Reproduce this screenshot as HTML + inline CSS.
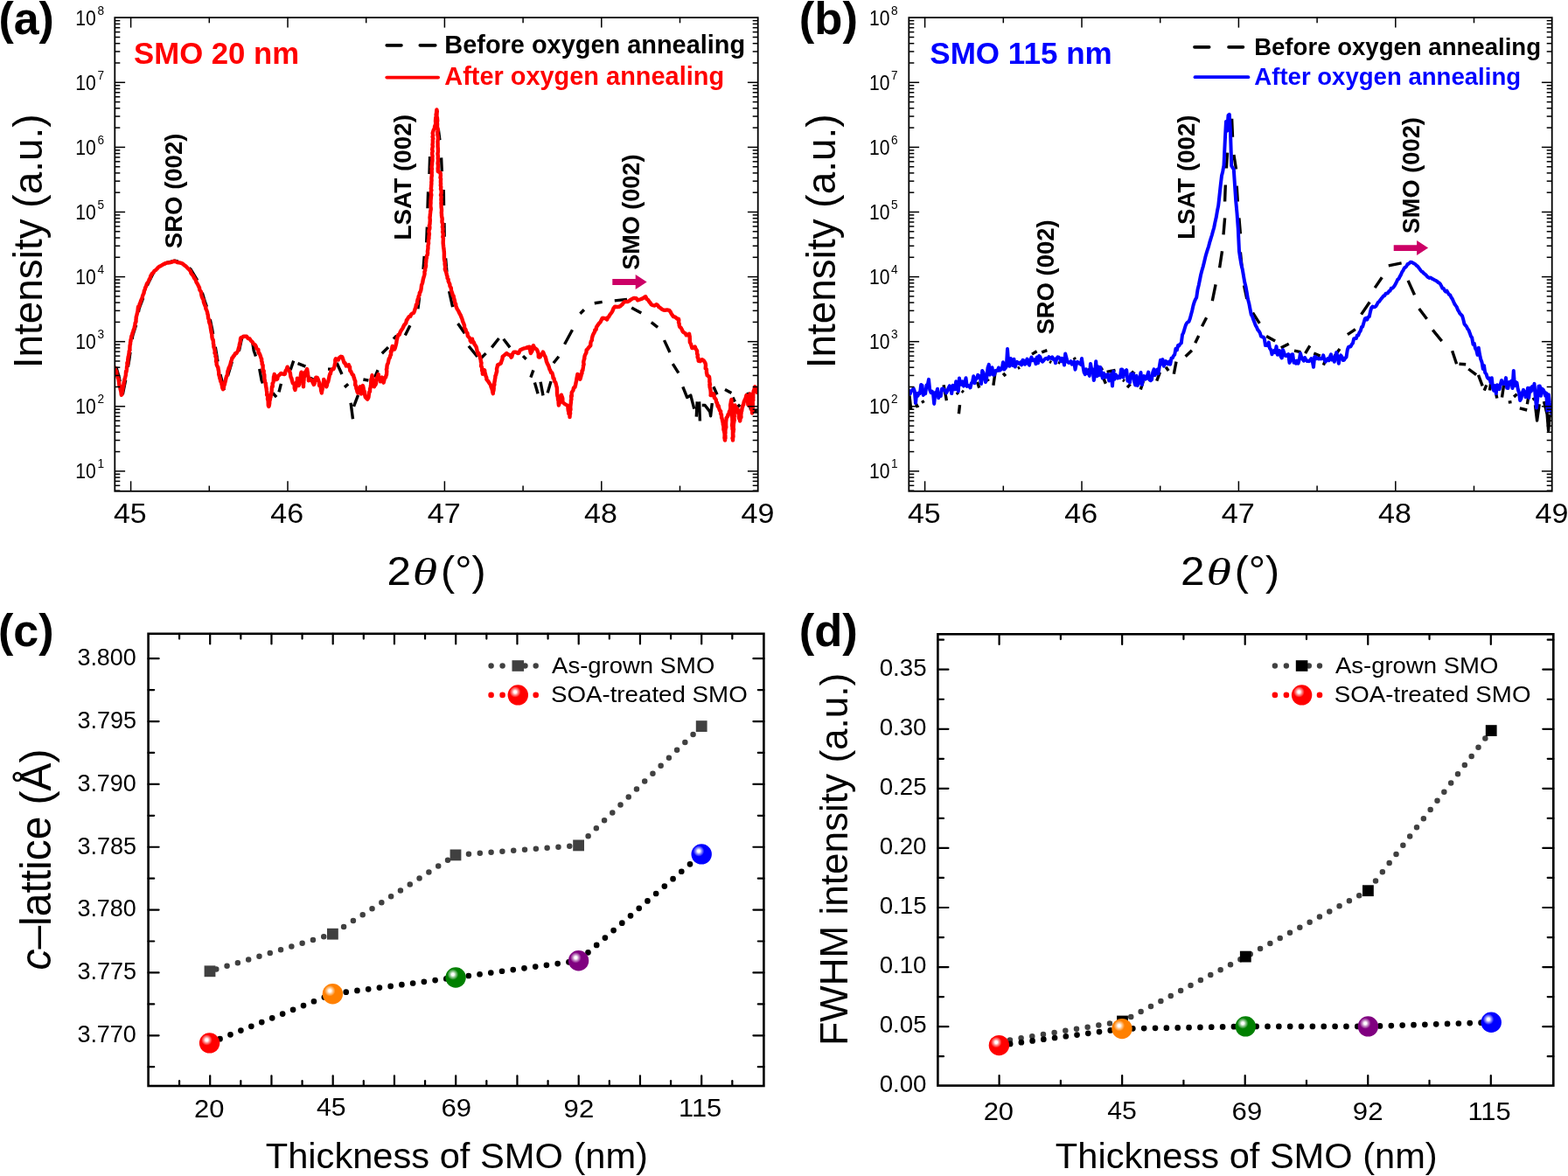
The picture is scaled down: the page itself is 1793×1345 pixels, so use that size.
<!DOCTYPE html>
<html lang="en"><head><meta charset="utf-8"><title>XRD of SMO films</title>
<style>html,body{margin:0;padding:0;background:#fff}body{width:1793px;height:1345px;overflow:hidden}svg{display:block;font-family:"Liberation Sans", Arial, Helvetica, sans-serif}</style>
</head><body>
<svg width="1793" height="1345" viewBox="0 0 1793 1345">
<defs>
<radialGradient id="g_red" cx="0.363" cy="0.35" r="0.27" fx="0.363" fy="0.35"><stop offset="0" stop-color="#fff"/><stop offset="0.22" stop-color="#fff"/><stop offset="0.55" stop-color="#fff" stop-opacity="0.55"/><stop offset="1" stop-color="#fff" stop-opacity="0"/></radialGradient>
<radialGradient id="g_org" cx="0.363" cy="0.35" r="0.27" fx="0.363" fy="0.35"><stop offset="0" stop-color="#fff"/><stop offset="0.22" stop-color="#fff"/><stop offset="0.55" stop-color="#fff" stop-opacity="0.55"/><stop offset="1" stop-color="#fff" stop-opacity="0"/></radialGradient>
<radialGradient id="g_grn" cx="0.363" cy="0.35" r="0.27" fx="0.363" fy="0.35"><stop offset="0" stop-color="#fff"/><stop offset="0.22" stop-color="#fff"/><stop offset="0.55" stop-color="#fff" stop-opacity="0.55"/><stop offset="1" stop-color="#fff" stop-opacity="0"/></radialGradient>
<radialGradient id="g_pur" cx="0.363" cy="0.35" r="0.27" fx="0.363" fy="0.35"><stop offset="0" stop-color="#fff"/><stop offset="0.22" stop-color="#fff"/><stop offset="0.55" stop-color="#fff" stop-opacity="0.55"/><stop offset="1" stop-color="#fff" stop-opacity="0"/></radialGradient>
<radialGradient id="g_blu" cx="0.363" cy="0.35" r="0.27" fx="0.363" fy="0.35"><stop offset="0" stop-color="#fff"/><stop offset="0.22" stop-color="#fff"/><stop offset="0.55" stop-color="#fff" stop-opacity="0.55"/><stop offset="1" stop-color="#fff" stop-opacity="0"/></radialGradient>
<clipPath id="clipA"><rect x="131.3" y="20" width="735.4" height="541.4"/></clipPath>
<clipPath id="clipB"><rect x="1039.3" y="20" width="735.4" height="541.4"/></clipPath>
</defs>
<rect width="1793" height="1345" fill="#fff"/>
<g clip-path="url(#clipA)" fill="none" stroke-linejoin="round">
<path d="M132.9 420.0 L136.2 431.5 L140.3 451.1 L143.6 434.8 L147.7 411.9 L151.7 384.1 L155.8 371.0 L159.1 353.0 L164.0 339.9 L168.9 325.2 L175.5 312.1 L182.0 305.6 L190.2 300.7 L200.0 298.2 L209.8 300.7 L218.0 308.0 L224.5 318.6 L229.4 328.5 L234.3 344.8 L238.4 356.3 L242.5 375.9 L245.8 393.9 L249.0 413.5 L252.3 429.8 L256.4 444.6 L260.5 429.8 L265.4 413.5 L270.3 403.7 L273.6 400.4 L276.8 385.7 L280.1 384.1 L283.4 384.1 L288.3 389.0 L290.2 401.0 L295.9 417.4 L299.2 435.4 L303.3 445.2" stroke="#000" stroke-width="3.4" stroke-dasharray="17 15" stroke-dashoffset="0"/>
<path d="M311.9 449.5 L316.1 454.2 M319.0 448.3 L321.4 438.8 M332.1 423.3 L335.7 412.6 M340.5 415.6 L349.4 419.1 M354.7 432.2 L358.3 434.0 M375.0 422.1 L378.5 422.1 M385.1 415.0 L391.0 428.0 M394.0 442.9 L398.2 439.3 M401.1 460.8 L403.5 479.2 M404.5 464.9 L409.5 451.8 M415.4 434.0 L421.4 435.2 M428.5 431.6 L432.1 423.3 M436.8 404.2 L444.0 397.1 M449.9 387.6 L453.5 384.0 M463.3 383.4 L468.9 372.3 M477.9 353.3 L479.6 340.0 M484.0 308.0 L485.2 293.0 M487.7 277.4 L488.4 259.6 M489.0 238.3 L489.6 219.4 M491.0 199.0 L491.6 179.0 M501.3 148.0 L502.9 160.2 M504.6 180.3 L505.3 196.0 M507.3 217.1 L507.5 235.0 M508.0 255.1 L508.2 270.7 M509.6 295.3 L510.9 310.9 M513.6 333.2 L517.6 351.1 M523.6 370.0 L531.4 381.2 M535.9 395.7 L545.9 408.0 M548.2 411.5 L555.6 404.1 M562.3 397.4 L570.5 387.0 M575.7 387.7 L583.1 397.4 M598.0 407.1 L601.7 410.8 M609.9 423.4 L606.9 431.6 M611.4 437.5 L615.1 450.2 M618.1 436.8 L621.0 452.4 M630.0 436.1 L626.2 449.4 M632.9 415.2 L638.9 407.8 M645.6 393.7 L654.5 377.3 M663.4 358.7 L667.9 354.3 M679.8 346.8 L688.7 345.4 M702.8 343.9 L717.0 342.4 M722.2 352.0 L733.3 358.0 M744.8 368.7 L752.1 374.4 M759.5 389.1 L766.0 403.0 M769.3 416.1 L775.9 426.7 M780.8 442.3 L785.7 454.5 L789.8 452.1 L793.8 467.6 M797.2 459.4 L796.3 476.6 M799.6 459.4 L800.4 481.5 M802.8 463.5 L806.1 463.5 L811.8 470.9 L812.6 475.8 L814.3 461.1 M815.9 442.3 L820.0 451.3 M829.0 445.5 L836.4 449.6 M838.0 454.5 L840.4 459.4 M843.7 465.2 L846.2 462.7 M855.2 448.8 L858.4 468.4 M861.7 470.1 L865.8 470.1" stroke="#000" stroke-width="3.4"/>
<path d="M131.5 420.6 L131.9 422.7 L132.5 424.8 L133.3 425.0 L133.3 429.3 L134.1 429.4 L134.8 432.1 L135.6 433.8 L135.8 435.6 L136.0 436.4 L136.4 440.4 L136.7 441.7 L137.2 441.4 L137.6 444.9 L137.6 444.9 L138.4 448.1 L138.7 451.1 L138.9 451.7 L139.4 451.2 L139.5 449.0 L139.9 447.6 L140.7 443.2 L140.4 441.8 L141.5 440.6 L141.5 438.4 L141.8 436.8 L142.2 435.4 L142.4 433.7 L142.9 432.8 L143.3 431.0 L143.8 429.2 L144.0 424.8 L144.5 425.3 L144.9 422.2 L145.1 419.2 L145.5 418.4 L145.4 414.9 L146.2 415.9 L146.3 412.5 L146.2 411.5 L146.7 407.7 L146.9 407.7 L147.6 403.6 L147.7 401.8 L148.1 400.8 L148.5 400.4 L148.4 398.5 L148.6 395.0 L149.1 393.1 L149.0 391.9 L149.6 389.6 L149.4 389.0 L149.9 387.3 L150.3 384.7 L151.2 382.6 L151.5 381.0 L152.2 379.2 L152.7 377.4 L153.6 375.3 L153.8 373.8 L154.4 371.6 L154.6 369.4 L155.5 368.0 L155.5 365.3 L155.7 364.5 L155.7 362.8 L156.5 360.0 L156.8 358.9 L157.2 356.9 L157.5 355.8 L157.7 353.6 L158.0 350.9 L159.2 350.7 L159.6 347.9 L160.6 345.8 L161.1 343.9 L161.8 342.5 L162.6 340.5 L163.1 338.4 L164.1 336.0 L164.5 335.4 L164.9 332.6 L165.9 330.8 L166.0 329.4 L167.1 327.4 L167.5 325.8 L168.2 324.0 L169.4 322.5 L170.3 320.7 L170.7 319.4 L171.9 317.6 L172.2 315.7 L173.3 314.1 L174.1 312.7 L175.6 311.6 L176.4 309.9 L178.2 308.9 L179.5 307.4 L180.6 306.2 L181.9 305.0 L184.1 304.0 L185.4 303.2 L187.1 302.2 L188.8 301.3 L191.1 300.5 L192.3 300.6 L195.0 300.1 L196.6 299.6 L198.6 298.8 L200.9 299.1 L202.7 300.0 L204.6 300.3 L206.3 300.7 L208.4 301.3 L209.5 302.2 L211.2 303.6 L212.7 304.6 L214.2 306.3 L215.6 307.7 L216.6 308.6 L218.0 310.4 L218.4 312.3 L219.6 313.8 L221.1 315.7 L222.0 317.8 L223.1 319.2 L224.0 320.8 L224.6 322.8 L225.6 324.4 L226.3 325.6 L227.2 327.6 L228.0 329.1 L228.3 331.4 L229.5 333.3 L229.9 333.6 L230.3 337.0 L230.4 337.7 L231.1 340.0 L231.8 341.7 L232.6 342.7 L232.9 345.4 L233.3 346.6 L234.0 348.4 L235.4 351.8 L235.3 353.0 L236.2 354.6 L237.0 356.9 L237.3 358.9 L237.8 360.2 L237.9 361.9 L238.2 364.1 L239.1 365.6 L238.9 367.0 L239.5 369.5 L240.2 370.9 L240.6 373.1 L240.7 374.5 L241.1 376.5 L241.4 378.7 L241.7 380.4 L242.1 381.4 L242.4 384.0 L242.4 385.3 L243.0 388.0 L243.7 388.8 L244.0 391.4 L243.9 392.6 L244.4 394.5 L244.4 396.8 L245.1 398.7 L245.5 400.1 L245.8 401.8 L245.5 403.7 L245.8 404.1 L246.7 405.6 L246.4 407.5 L247.4 409.5 L247.0 413.4 L247.6 414.1 L247.7 417.0 L248.5 418.8 L249.1 419.8 L249.3 419.9 L249.7 423.2 L250.0 423.8 L250.4 428.2 L250.2 428.1 L250.9 430.4 L251.5 433.3 L251.7 433.1 L252.3 436.3 L253.2 437.5 L253.4 439.3 L253.9 441.2 L254.2 443.3 L255.0 445.2 L255.9 443.1 L256.2 440.4 L256.7 440.4 L257.2 437.9 L257.6 436.4 L258.4 433.0 L258.3 433.1 L259.1 430.4 L260.0 428.7 L260.1 427.5 L260.5 424.3 L261.0 423.4 L261.7 420.5 L262.5 420.9 L262.7 418.4 L263.4 417.0 L264.0 414.1 L264.9 411.7 L265.4 409.4 L266.4 408.8 L267.0 407.1 L267.9 406.8 L268.9 404.3 L270.3 404.2 L272.2 401.0 L272.6 399.4 L273.0 397.9 L273.7 395.6 L273.8 394.1 L274.5 391.6 L274.8 390.8 L275.0 387.6 L275.4 386.3 L276.9 385.9 L278.7 384.7 L282.0 384.7 L283.8 387.1 L285.5 387.5 L286.9 389.6 L288.3 390.8 L289.9 393.2 L291.8 394.5 L292.9 396.8 L293.2 398.4 L294.1 399.2 L295.3 399.7 L295.6 403.7 L296.7 404.3 L297.4 406.0 L298.4 409.2 L299.2 410.8 L299.0 412.1 L299.7 414.4 L299.7 416.5 L300.6 417.8 L300.6 418.7 L300.6 422.2 L300.8 424.7 L301.7 424.1 L301.6 427.2 L302.3 428.6 L302.4 431.5 L302.3 433.1 L302.9 435.3 L302.9 436.9 L303.8 438.4 L303.7 438.5 L304.0 441.0 L304.5 443.8 L304.6 444.0 L304.9 446.8 L305.3 449.0 L305.1 451.6 L305.8 451.1 L306.2 452.9 L306.0 456.5 L306.5 457.8 L306.7 459.4 L306.7 460.3 L306.8 463.8 L307.4 464.9 L307.9 463.3 L308.2 460.9 L308.2 459.2 L309.0 456.4 L309.0 455.2 L309.6 453.8 L309.6 452.1 L310.1 451.5 L310.3 449.9 L310.7 447.1 L310.7 444.5 L311.0 442.1 L311.8 442.1 L311.6 438.5 L312.1 438.3 L312.7 436.4 L312.9 432.7 L313.0 430.9 L313.4 430.2 L313.7 428.0 L314.2 429.3 L315.5 430.6 L316.1 434.0 L317.2 433.4 L317.8 430.4 L320.0 428.3 L321.4 426.9 L323.2 427.7 L325.0 428.0 L325.8 427.8 L326.6 424.1 L327.4 423.0 L327.9 422.1 L328.6 419.7 L329.1 422.5 L330.7 423.7 L331.5 425.7 L332.0 427.4 L332.2 429.6 L332.6 431.4 L333.5 433.1 L333.9 435.2 L334.9 438.4 L335.7 438.8 L336.5 439.4 L336.8 442.7 L336.7 443.7 L337.5 445.9 L337.6 442.7 L338.2 443.5 L338.4 441.4 L339.0 437.3 L339.5 436.9 L339.9 435.3 L339.9 432.8 L340.5 434.4 L341.0 438.3 L341.5 438.9 L341.6 441.1 L342.2 439.2 L342.1 435.9 L342.4 434.4 L342.9 433.4 L343.7 431.6 L343.8 430.0 L344.1 427.5 L344.6 425.7 L345.1 427.2 L344.9 430.6 L345.6 430.8 L345.6 433.2 L346.0 434.1 L345.8 435.9 L346.7 437.5 L346.7 439.5 L347.0 442.3 L347.0 439.5 L347.3 437.6 L347.2 435.6 L347.5 434.9 L347.6 431.6 L348.1 430.9 L348.5 428.0 L348.5 427.2 L348.8 425.7 L349.6 425.3 L351.2 422.1 L351.2 422.7 L351.6 424.8 L352.0 427.2 L351.9 428.2 L352.6 430.7 L352.9 433.2 L352.9 435.2 L355.3 434.0 L356.9 435.4 L357.5 437.2 L358.9 439.9 L359.7 438.3 L360.0 434.5 L360.8 435.1 L361.3 431.6 L362.8 431.9 L364.2 435.2 L364.3 435.7 L364.9 437.3 L365.2 441.0 L366.4 441.4 L366.9 444.0 L367.2 447.2 L367.7 446.2 L367.8 449.5 L368.0 447.9 L368.8 444.3 L368.5 444.7 L368.7 441.4 L369.2 440.3 L369.9 436.9 L370.1 436.6 L370.2 434.0 L371.2 436.2 L372.0 437.7 L372.4 439.4 L373.2 442.3 L374.0 440.4 L374.2 437.5 L375.1 436.9 L375.7 434.4 L376.1 432.8 L376.7 429.7 L377.5 427.2 L377.9 427.4 L378.5 424.5 L380.2 422.0 L381.5 422.1 L381.7 421.2 L382.4 419.3 L383.0 416.0 L383.4 414.9 L383.3 411.8 L383.9 410.2 L386.9 411.4 L388.0 409.3 L389.8 407.8 L391.2 408.2 L391.9 409.8 L392.8 412.6 L393.5 415.0 L394.6 415.2 L395.8 418.5 L398.8 417.3 L399.1 419.6 L400.0 419.4 L400.3 424.1 L401.1 424.5 L401.9 426.3 L403.0 428.5 L404.1 429.2 L404.7 432.1 L405.1 432.2 L405.3 433.9 L406.3 436.0 L406.2 440.6 L407.1 441.1 L407.4 444.4 L407.9 445.2 L408.6 448.4 L409.5 449.5 L410.1 448.1 L410.9 447.0 L411.1 444.4 L411.8 442.3 L412.1 443.2 L412.7 446.8 L413.0 447.7 L413.0 450.6 L413.4 448.6 L413.9 445.5 L414.0 444.9 L414.1 443.2 L414.8 441.1 L415.4 442.8 L415.8 445.2 L415.9 446.3 L416.9 448.1 L416.9 449.2 L417.1 451.3 L417.8 454.2 L420.2 456.6 L421.0 455.3 L421.5 454.1 L421.7 452.0 L422.2 448.4 L423.0 447.9 L423.1 444.7 L423.8 442.7 L424.0 440.5 L424.4 440.2 L424.2 438.3 L424.4 433.8 L425.1 432.5 L425.2 431.6 L425.5 429.2 L425.5 431.9 L426.0 432.8 L426.4 435.6 L427.1 436.1 L426.9 438.0 L427.5 439.1 L427.9 442.3 L428.2 441.3 L429.3 440.2 L430.1 438.1 L430.3 435.2 L430.8 432.4 L431.3 431.5 L432.1 430.0 L432.7 428.0 L433.1 431.2 L433.7 432.1 L434.8 435.2 L435.0 436.4 L435.8 433.2 L436.8 431.6 L437.7 432.1 L437.7 435.7 L438.6 437.6 L439.4 434.5 L439.8 432.7 L441.0 431.6 L441.5 429.6 L442.0 428.6 L442.3 424.4 L441.9 422.4 L442.4 421.4 L442.4 420.2 L442.7 417.5 L443.4 416.1 L443.8 415.2 L444.5 411.6 L444.8 410.2 L445.8 409.1 L446.3 406.6 L447.1 405.8 L446.9 401.9 L447.7 402.2 L447.9 400.1 L448.4 397.3 L448.7 395.9 L449.6 396.8 L451.1 399.5 L451.7 398.3 L452.4 395.6 L452.7 394.6 L453.3 392.1 L453.5 390.0 L454.0 387.6 L454.7 385.2 L455.4 383.0 L456.7 382.8 L457.6 380.0 L458.4 378.5 L459.4 376.9 L460.6 375.2 L461.6 373.0 L462.0 372.0 L462.9 371.0 L464.2 369.5 L464.9 366.2 L465.7 365.5 L466.6 363.8 L467.8 362.1 L469.2 361.9 L469.9 360.1 L471.4 358.5 L473.0 358.0 L473.9 355.8 L474.6 353.4 L475.4 351.6 L475.5 350.9 L476.0 348.1 L477.1 347.5 L477.2 344.6 L477.7 342.3 L478.2 342.0 L478.7 338.8 L479.6 337.5 L479.8 334.8 L480.5 334.1 L481.3 332.0 L481.7 329.6 L481.8 328.4 L482.1 326.0 L482.9 324.1 L483.4 322.1 L483.6 320.8 L484.0 318.9 L484.5 317.1 L485.2 314.8 L485.6 313.1 L485.4 310.9 L486.2 309.1 L486.0 307.8 L486.8 305.4 L487.1 303.9 L486.9 301.8 L487.1 300.5 L487.3 298.1 L487.4 296.3 L487.9 295.0 L487.9 292.7 L488.8 291.4 L489.1 289.1 L488.9 287.7 L489.2 285.7 L489.5 283.7 L489.4 281.6 L489.6 280.2 L490.1 278.3 L489.9 276.4 L490.0 274.6 L490.5 272.5 L490.4 271.1 L490.7 268.8 L490.9 267.4 L490.4 265.1 L490.6 263.2 L491.3 261.6 L491.4 259.5 L490.8 258.2 L491.5 256.4 L491.6 254.3 L491.8 252.1 L491.7 250.5 L491.5 248.8 L491.8 246.9 L491.9 244.9 L492.1 243.3 L492.3 241.3 L492.7 239.8 L492.7 237.9 L492.3 236.1 L492.4 233.7 L492.6 232.3 L492.5 230.4 L492.6 228.8 L492.8 226.6 L492.9 225.0 L493.3 222.9 L492.9 221.1 L492.7 219.2 L493.4 217.6 L492.8 215.8 L493.1 214.0 L493.2 211.6 L493.4 210.3 L493.3 208.4 L493.6 206.2 L493.4 204.5 L493.5 202.5 L493.8 201.0 L493.7 198.9 L493.8 196.8 L493.6 195.2 L494.0 193.1 L493.6 191.4 L493.8 189.4 L494.1 188.1 L494.1 186.2 L494.4 184.4 L494.5 182.3 L494.4 180.2 L494.6 178.5 L494.3 177.0 L494.2 174.7 L494.7 173.1 L494.2 170.9 L494.5 169.0 L494.9 167.3 L494.5 165.6 L494.8 163.8 L494.9 162.1 L494.8 159.8 L495.3 158.4 L494.6 156.4 L495.2 154.9 L494.7 152.4 L495.1 150.9 L495.8 148.7 L496.9 146.9 L497.1 144.5 L498.0 142.4 L498.2 140.8 L498.0 138.6 L498.1 136.8 L498.2 135.2 L498.8 133.0 L498.6 130.9 L499.0 129.5 L499.2 127.2 L499.4 125.4 L499.8 127.4 L499.6 128.9 L499.5 131.2 L499.4 132.8 L499.9 134.5 L500.1 136.7 L500.2 138.4 L499.8 139.8 L500.1 141.8 L500.0 144.0 L500.1 145.8 L500.7 147.1 L500.8 149.1 L500.3 150.8 L500.2 152.9 L500.6 155.0 L500.8 156.5 L501.0 158.1 L500.7 160.2 L500.5 162.0 L500.6 164.2 L500.6 165.7 L500.6 167.8 L500.8 169.6 L500.9 171.4 L500.9 173.6 L500.5 175.6 L500.7 177.3 L500.9 179.2 L500.7 180.7 L501.0 183.2 L500.8 184.9 L500.6 187.0 L500.9 188.4 L501.0 190.8 L500.7 192.7 L500.8 194.0 L500.8 196.1 L503.6 197.5 L503.8 199.2 L503.9 201.2 L503.5 203.0 L504.1 204.8 L503.9 206.9 L503.9 208.5 L504.1 210.5 L503.8 211.8 L504.3 214.0 L504.0 216.1 L504.6 217.6 L504.7 219.7 L504.6 221.1 L504.0 223.2 L504.7 224.8 L504.5 226.8 L504.4 228.7 L504.7 230.3 L504.4 232.3 L504.6 234.2 L504.6 235.8 L504.7 237.6 L505.0 239.2 L505.0 241.3 L504.8 243.2 L505.0 245.0 L505.0 246.6 L505.4 249.0 L505.8 250.6 L505.5 252.1 L505.5 254.1 L506.2 255.8 L506.3 257.9 L505.9 259.6 L506.5 261.4 L506.3 263.5 L506.1 265.1 L506.8 267.4 L506.7 269.3 L506.3 271.0 L506.9 272.5 L506.8 274.9 L506.7 276.6 L506.7 278.3 L506.9 280.1 L507.1 282.2 L507.3 283.7 L507.6 285.6 L507.7 287.3 L507.9 289.0 L507.9 291.1 L507.9 292.5 L507.9 294.7 L508.0 296.6 L508.4 298.6 L508.8 300.3 L508.6 301.6 L508.9 303.9 L509.3 305.3 L508.8 307.7 L509.3 309.2 L510.0 310.9 L510.5 312.5 L510.9 314.6 L511.5 316.0 L511.6 318.1 L512.7 319.5 L512.6 321.3 L513.5 323.3 L514.3 325.0 L514.5 327.2 L515.2 328.5 L515.8 329.5 L516.0 332.5 L516.4 333.1 L517.2 335.4 L517.7 337.5 L518.6 338.5 L519.0 340.8 L519.6 342.7 L520.0 344.2 L520.2 346.2 L521.2 347.8 L521.2 349.7 L522.0 351.6 L522.5 352.9 L523.7 354.9 L524.5 356.1 L524.8 357.2 L525.9 359.1 L526.9 360.9 L527.6 362.9 L528.5 365.0 L529.0 367.1 L529.5 368.4 L530.0 369.6 L531.0 372.3 L531.1 375.0 L532.1 376.3 L532.6 377.3 L533.3 379.9 L534.5 380.9 L534.8 384.0 L535.4 384.7 L536.5 385.9 L537.7 387.8 L537.7 389.5 L538.9 391.2 L540.0 387.7 L540.5 389.9 L542.1 392.0 L542.3 393.4 L543.4 394.8 L544.5 396.7 L544.9 398.0 L545.4 400.4 L546.0 403.2 L546.6 404.9 L547.4 403.9 L548.5 406.9 L548.9 408.6 L549.4 410.5 L549.6 411.1 L550.0 414.4 L550.5 414.8 L550.1 418.8 L551.0 419.9 L551.2 422.3 L551.2 423.9 L551.7 424.5 L551.9 427.9 L552.9 426.4 L554.1 423.4 L554.4 425.4 L554.8 427.1 L555.6 430.4 L556.3 431.7 L556.4 433.8 L557.2 434.8 L558.2 436.0 L559.8 438.6 L560.8 439.8 L561.1 440.5 L561.5 442.3 L562.3 444.2 L563.1 446.9 L563.2 448.2 L563.8 450.2 L563.7 449.1 L564.5 446.1 L564.7 444.0 L564.6 442.1 L564.8 441.4 L565.4 440.0 L565.2 438.3 L565.8 435.3 L566.0 433.8 L566.4 431.8 L566.4 429.9 L567.1 429.0 L567.7 425.6 L568.0 425.7 L568.2 424.4 L568.0 422.0 L569.0 418.1 L569.0 417.5 L572.0 416.0 L572.8 415.6 L573.3 413.5 L574.5 410.4 L574.7 408.0 L575.7 407.1 L577.8 405.3 L579.4 404.1 L581.0 405.4 L583.2 406.3 L584.6 408.6 L585.2 408.0 L586.4 404.2 L587.6 402.6 L590.2 402.7 L592.0 404.1 L593.2 403.8 L594.8 400.3 L596.5 399.6 L599.1 398.4 L601.0 398.1 L603.5 397.1 L605.4 396.7 L605.6 398.0 L606.2 400.6 L606.5 402.3 L606.9 404.1 L607.3 403.3 L608.5 401.3 L609.0 398.0 L609.1 396.4 L609.9 395.2 L610.9 397.5 L612.7 398.9 L613.6 399.6 L614.2 400.2 L614.7 401.8 L615.7 404.3 L615.8 408.1 L616.6 408.6 L617.5 408.4 L618.7 406.1 L619.6 405.3 L621.0 402.6 L621.6 403.9 L622.4 406.4 L622.7 406.6 L623.6 408.1 L624.4 410.8 L624.8 413.0 L625.2 414.2 L625.9 415.9 L627.0 417.9 L627.6 419.3 L628.5 422.5 L629.2 423.4 L630.2 426.2 L631.2 426.2 L632.2 429.4 L632.6 432.4 L633.5 432.8 L634.1 436.2 L634.6 436.6 L635.3 437.4 L636.1 440.8 L636.7 442.8 L636.9 444.5 L637.0 447.2 L637.0 449.9 L637.2 451.4 L637.4 453.1 L637.7 452.8 L638.1 457.0 L638.6 459.1 L638.9 458.4 L638.6 460.5 L638.9 463.6 L639.6 461.4 L640.1 460.5 L640.8 458.2 L641.2 455.8 L641.0 454.9 L641.9 451.7 L642.0 452.2 L643.0 454.6 L643.3 455.6 L643.4 459.5 L644.1 460.6 L645.9 462.1 L648.6 463.6 L649.3 464.6 L649.6 468.1 L649.9 470.1 L650.4 469.7 L650.4 473.2 L651.5 474.2 L651.5 477.0 L651.7 473.9 L652.1 473.0 L652.0 471.8 L651.8 470.1 L652.5 468.6 L652.2 464.8 L652.3 465.0 L652.7 461.5 L652.9 460.6 L652.9 457.6 L653.4 457.1 L653.1 453.0 L653.8 453.2 L653.7 450.3 L653.8 448.7 L655.4 446.5 L656.0 443.5 L657.5 442.8 L657.7 441.2 L658.1 440.4 L658.7 437.0 L659.1 435.6 L659.4 433.4 L659.7 431.6 L660.3 428.8 L660.4 427.9 L661.7 429.2 L662.7 430.5 L663.4 433.8 L663.9 431.9 L664.6 429.4 L664.7 427.5 L665.5 427.1 L665.5 424.2 L666.4 423.4 L666.4 423.0 L666.9 420.0 L667.0 418.5 L667.6 416.7 L667.2 414.1 L667.9 411.1 L668.4 410.1 L668.2 409.3 L668.6 407.1 L669.4 405.2 L670.4 403.4 L670.7 400.1 L671.6 399.6 L672.9 397.9 L674.1 396.4 L675.3 395.2 L675.4 392.2 L675.9 390.3 L676.9 389.1 L676.9 387.2 L677.5 384.8 L678.4 382.3 L679.2 380.9 L680.2 379.0 L680.3 377.5 L681.6 376.8 L682.1 373.9 L682.8 372.9 L683.9 371.4 L684.8 370.1 L686.6 368.3 L687.7 365.9 L688.7 363.9 L690.0 363.8 L692.4 364.2 L694.1 365.4 L695.0 363.1 L695.9 362.7 L696.8 361.0 L698.2 358.9 L699.1 357.9 L700.3 355.9 L701.4 353.1 L701.9 352.1 L703.1 350.7 L705.5 351.0 L708.0 350.7 L709.9 349.7 L711.6 348.2 L712.8 346.4 L714.5 345.0 L717.2 345.1 L719.4 344.2 L721.2 342.8 L723.3 341.5 L725.2 340.9 L727.5 341.2 L729.2 343.3 L731.8 342.5 L734.2 341.7 L736.0 340.6 L738.2 339.2 L739.6 342.0 L741.3 343.2 L742.3 345.0 L744.0 347.0 L744.8 348.3 L746.4 349.1 L748.7 349.5 L750.5 348.2 L752.3 349.4 L753.5 351.2 L755.4 352.3 L756.8 353.6 L758.7 354.6 L760.3 354.8 L762.7 354.4 L765.2 354.8 L766.8 356.9 L767.6 358.6 L768.9 360.6 L770.1 362.1 L772.1 362.6 L774.3 364.5 L775.9 364.6 L776.3 366.0 L776.0 368.7 L776.7 370.4 L776.7 372.0 L777.4 374.0 L778.7 375.0 L779.7 376.8 L780.7 379.0 L781.6 380.1 L783.6 381.1 L784.8 383.4 L786.5 383.4 L788.1 381.8 L788.4 383.9 L788.7 384.8 L788.8 387.9 L788.8 389.3 L788.9 391.6 L789.9 393.1 L790.6 395.5 L791.4 398.1 L793.4 397.9 L794.7 396.5 L795.5 398.6 L796.2 399.8 L797.1 401.4 L797.1 404.4 L797.9 406.0 L797.6 408.1 L797.8 409.2 L798.5 409.6 L798.7 412.8 L800.7 413.2 L802.8 411.2 L804.6 412.3 L806.1 414.5 L806.7 415.9 L807.0 417.8 L806.7 421.4 L807.0 421.1 L807.9 422.5 L808.0 426.6 L808.3 426.9 L808.6 429.2 L811.0 430.8 L811.4 433.8 L811.4 435.1 L811.3 436.3 L812.0 440.0 L811.4 439.6 L811.7 443.3 L811.8 443.3 L812.4 445.3 L812.7 448.1 L812.8 451.1 L812.6 452.1 L814.1 452.1 L815.9 450.4 L816.5 451.6 L816.9 455.0 L817.9 455.7 L818.8 457.4 L819.2 460.3 L820.0 460.6 L820.7 464.7 L821.6 464.1 L822.3 467.2 L823.1 469.6 L824.1 470.1 L824.1 473.0 L824.8 474.7 L825.0 474.1 L825.1 477.7 L825.4 477.9 L826.3 482.0 L826.7 483.7 L826.8 485.6 L827.2 486.4 L827.4 488.1 L827.5 488.5 L827.4 491.2 L827.9 492.7 L828.6 496.1 L828.6 499.0 L828.4 500.9 L829.2 500.9 L829.0 503.6 L828.8 502.7 L829.5 500.9 L829.3 498.5 L829.2 495.5 L829.5 495.3 L829.4 494.1 L829.4 492.4 L829.7 490.1 L830.3 488.7 L830.1 486.1 L830.1 484.7 L830.1 483.1 L830.6 478.7 L830.6 478.3 L832.1 476.0 L832.5 474.2 L833.9 473.3 L833.8 470.9 L834.6 471.2 L834.8 469.0 L835.3 466.7 L835.2 463.5 L835.3 462.6 L835.6 461.4 L835.9 459.1 L836.4 457.0 L836.5 459.2 L836.2 460.0 L836.7 461.7 L836.8 465.9 L836.6 467.7 L836.8 469.5 L836.8 470.8 L837.0 471.0 L837.0 474.0 L837.0 476.1 L837.4 478.4 L837.4 478.3 L837.4 481.6 L837.6 481.6 L837.1 486.4 L837.3 487.5 L837.5 488.4 L837.5 490.7 L838.0 492.5 L837.9 493.7 L837.9 496.5 L838.0 499.2 L837.5 501.3 L838.0 501.0 L838.0 503.6 L838.1 500.5 L838.0 501.0 L838.5 499.3 L838.2 495.1 L838.5 494.5 L838.8 492.0 L839.0 491.1 L838.7 489.9 L838.7 487.5 L838.9 484.0 L839.2 483.6 L839.4 481.4 L839.8 480.8 L839.3 476.6 L840.0 476.0 L839.5 473.5 L840.1 471.6 L839.9 471.4 L840.0 469.5 L840.6 468.1 L840.4 465.7 L840.4 463.5 L841.4 465.6 L842.7 467.1 L843.7 468.4 L844.1 471.1 L844.2 472.8 L845.2 472.6 L844.9 477.4 L845.1 478.8 L845.9 478.3 L846.2 481.5 L846.6 478.2 L847.1 477.3 L847.5 477.3 L847.2 474.0 L847.5 473.3 L847.8 469.4 L848.2 470.0 L848.6 466.6 L849.1 465.5 L849.4 463.5 L850.1 463.0 L850.7 459.6 L851.8 457.0 L851.9 456.9 L852.7 455.2 L853.5 452.1 L854.2 453.6 L854.2 454.7 L855.1 457.6 L855.0 458.7 L855.4 462.8 L856.0 463.5 L855.9 461.8 L856.6 459.9 L856.7 457.6 L856.7 457.0 L857.5 454.4 L857.2 453.6 L857.6 450.4 L857.6 451.3 L858.1 455.2 L858.3 454.8 L858.8 456.7 L858.5 461.2 L859.1 462.3 L858.7 464.4 L859.2 463.7 L859.7 468.3 L859.3 468.7 L860.2 470.2 L860.1 472.5 L860.0 471.6 L860.3 470.4 L860.7 468.2 L860.7 464.3 L860.8 463.7 L860.8 461.9 L860.7 458.9 L861.3 457.6 L860.8 457.7 L861.3 455.0 L861.2 451.5 L861.3 451.8 L861.4 450.3 L861.7 447.2 L862.4 445.9 L863.3 442.3 L863.9 444.3 L864.7 445.6 L865.8 448.8" stroke="#ff0000" stroke-width="4.4" stroke-linecap="round"/>
</g>
<rect x="131.30" y="20.10" width="735.40" height="541.70" fill="none" stroke="#000" stroke-width="1.80"/>
<line x1="149.60" y1="561.80" x2="149.60" y2="550.30" stroke="#000" stroke-width="1.50"/>
<line x1="149.60" y1="20.10" x2="149.60" y2="31.60" stroke="#000" stroke-width="1.50"/>
<line x1="239.30" y1="561.80" x2="239.30" y2="555.60" stroke="#000" stroke-width="1.50"/>
<line x1="239.30" y1="20.10" x2="239.30" y2="26.30" stroke="#000" stroke-width="1.50"/>
<line x1="329.00" y1="561.80" x2="329.00" y2="550.30" stroke="#000" stroke-width="1.50"/>
<line x1="329.00" y1="20.10" x2="329.00" y2="31.60" stroke="#000" stroke-width="1.50"/>
<line x1="418.70" y1="561.80" x2="418.70" y2="555.60" stroke="#000" stroke-width="1.50"/>
<line x1="418.70" y1="20.10" x2="418.70" y2="26.30" stroke="#000" stroke-width="1.50"/>
<line x1="508.40" y1="561.80" x2="508.40" y2="550.30" stroke="#000" stroke-width="1.50"/>
<line x1="508.40" y1="20.10" x2="508.40" y2="31.60" stroke="#000" stroke-width="1.50"/>
<line x1="598.10" y1="561.80" x2="598.10" y2="555.60" stroke="#000" stroke-width="1.50"/>
<line x1="598.10" y1="20.10" x2="598.10" y2="26.30" stroke="#000" stroke-width="1.50"/>
<line x1="687.80" y1="561.80" x2="687.80" y2="550.30" stroke="#000" stroke-width="1.50"/>
<line x1="687.80" y1="20.10" x2="687.80" y2="31.60" stroke="#000" stroke-width="1.50"/>
<line x1="777.50" y1="561.80" x2="777.50" y2="555.60" stroke="#000" stroke-width="1.50"/>
<line x1="777.50" y1="20.10" x2="777.50" y2="26.30" stroke="#000" stroke-width="1.50"/>
<line x1="131.30" y1="561.21" x2="137.30" y2="561.21" stroke="#000" stroke-width="1.50"/>
<line x1="866.70" y1="561.21" x2="860.70" y2="561.21" stroke="#000" stroke-width="1.50"/>
<line x1="131.30" y1="555.34" x2="137.30" y2="555.34" stroke="#000" stroke-width="1.50"/>
<line x1="866.70" y1="555.34" x2="860.70" y2="555.34" stroke="#000" stroke-width="1.50"/>
<line x1="131.30" y1="550.38" x2="137.30" y2="550.38" stroke="#000" stroke-width="1.50"/>
<line x1="866.70" y1="550.38" x2="860.70" y2="550.38" stroke="#000" stroke-width="1.50"/>
<line x1="131.30" y1="546.08" x2="137.30" y2="546.08" stroke="#000" stroke-width="1.50"/>
<line x1="866.70" y1="546.08" x2="860.70" y2="546.08" stroke="#000" stroke-width="1.50"/>
<line x1="131.30" y1="542.29" x2="137.30" y2="542.29" stroke="#000" stroke-width="1.50"/>
<line x1="866.70" y1="542.29" x2="860.70" y2="542.29" stroke="#000" stroke-width="1.50"/>
<line x1="131.30" y1="538.90" x2="143.10" y2="538.90" stroke="#000" stroke-width="1.50"/>
<line x1="866.70" y1="538.90" x2="854.90" y2="538.90" stroke="#000" stroke-width="1.50"/>
<line x1="131.30" y1="516.59" x2="137.30" y2="516.59" stroke="#000" stroke-width="1.50"/>
<line x1="866.70" y1="516.59" x2="860.70" y2="516.59" stroke="#000" stroke-width="1.50"/>
<line x1="131.30" y1="503.55" x2="137.30" y2="503.55" stroke="#000" stroke-width="1.50"/>
<line x1="866.70" y1="503.55" x2="860.70" y2="503.55" stroke="#000" stroke-width="1.50"/>
<line x1="131.30" y1="494.29" x2="137.30" y2="494.29" stroke="#000" stroke-width="1.50"/>
<line x1="866.70" y1="494.29" x2="860.70" y2="494.29" stroke="#000" stroke-width="1.50"/>
<line x1="131.30" y1="487.11" x2="137.30" y2="487.11" stroke="#000" stroke-width="1.50"/>
<line x1="866.70" y1="487.11" x2="860.70" y2="487.11" stroke="#000" stroke-width="1.50"/>
<line x1="131.30" y1="481.24" x2="137.30" y2="481.24" stroke="#000" stroke-width="1.50"/>
<line x1="866.70" y1="481.24" x2="860.70" y2="481.24" stroke="#000" stroke-width="1.50"/>
<line x1="131.30" y1="476.28" x2="137.30" y2="476.28" stroke="#000" stroke-width="1.50"/>
<line x1="866.70" y1="476.28" x2="860.70" y2="476.28" stroke="#000" stroke-width="1.50"/>
<line x1="131.30" y1="471.98" x2="137.30" y2="471.98" stroke="#000" stroke-width="1.50"/>
<line x1="866.70" y1="471.98" x2="860.70" y2="471.98" stroke="#000" stroke-width="1.50"/>
<line x1="131.30" y1="468.19" x2="137.30" y2="468.19" stroke="#000" stroke-width="1.50"/>
<line x1="866.70" y1="468.19" x2="860.70" y2="468.19" stroke="#000" stroke-width="1.50"/>
<line x1="131.30" y1="464.80" x2="143.10" y2="464.80" stroke="#000" stroke-width="1.50"/>
<line x1="866.70" y1="464.80" x2="854.90" y2="464.80" stroke="#000" stroke-width="1.50"/>
<line x1="131.30" y1="442.49" x2="137.30" y2="442.49" stroke="#000" stroke-width="1.50"/>
<line x1="866.70" y1="442.49" x2="860.70" y2="442.49" stroke="#000" stroke-width="1.50"/>
<line x1="131.30" y1="429.45" x2="137.30" y2="429.45" stroke="#000" stroke-width="1.50"/>
<line x1="866.70" y1="429.45" x2="860.70" y2="429.45" stroke="#000" stroke-width="1.50"/>
<line x1="131.30" y1="420.19" x2="137.30" y2="420.19" stroke="#000" stroke-width="1.50"/>
<line x1="866.70" y1="420.19" x2="860.70" y2="420.19" stroke="#000" stroke-width="1.50"/>
<line x1="131.30" y1="413.01" x2="137.30" y2="413.01" stroke="#000" stroke-width="1.50"/>
<line x1="866.70" y1="413.01" x2="860.70" y2="413.01" stroke="#000" stroke-width="1.50"/>
<line x1="131.30" y1="407.14" x2="137.30" y2="407.14" stroke="#000" stroke-width="1.50"/>
<line x1="866.70" y1="407.14" x2="860.70" y2="407.14" stroke="#000" stroke-width="1.50"/>
<line x1="131.30" y1="402.18" x2="137.30" y2="402.18" stroke="#000" stroke-width="1.50"/>
<line x1="866.70" y1="402.18" x2="860.70" y2="402.18" stroke="#000" stroke-width="1.50"/>
<line x1="131.30" y1="397.88" x2="137.30" y2="397.88" stroke="#000" stroke-width="1.50"/>
<line x1="866.70" y1="397.88" x2="860.70" y2="397.88" stroke="#000" stroke-width="1.50"/>
<line x1="131.30" y1="394.09" x2="137.30" y2="394.09" stroke="#000" stroke-width="1.50"/>
<line x1="866.70" y1="394.09" x2="860.70" y2="394.09" stroke="#000" stroke-width="1.50"/>
<line x1="131.30" y1="390.70" x2="143.10" y2="390.70" stroke="#000" stroke-width="1.50"/>
<line x1="866.70" y1="390.70" x2="854.90" y2="390.70" stroke="#000" stroke-width="1.50"/>
<line x1="131.30" y1="368.39" x2="137.30" y2="368.39" stroke="#000" stroke-width="1.50"/>
<line x1="866.70" y1="368.39" x2="860.70" y2="368.39" stroke="#000" stroke-width="1.50"/>
<line x1="131.30" y1="355.35" x2="137.30" y2="355.35" stroke="#000" stroke-width="1.50"/>
<line x1="866.70" y1="355.35" x2="860.70" y2="355.35" stroke="#000" stroke-width="1.50"/>
<line x1="131.30" y1="346.09" x2="137.30" y2="346.09" stroke="#000" stroke-width="1.50"/>
<line x1="866.70" y1="346.09" x2="860.70" y2="346.09" stroke="#000" stroke-width="1.50"/>
<line x1="131.30" y1="338.91" x2="137.30" y2="338.91" stroke="#000" stroke-width="1.50"/>
<line x1="866.70" y1="338.91" x2="860.70" y2="338.91" stroke="#000" stroke-width="1.50"/>
<line x1="131.30" y1="333.04" x2="137.30" y2="333.04" stroke="#000" stroke-width="1.50"/>
<line x1="866.70" y1="333.04" x2="860.70" y2="333.04" stroke="#000" stroke-width="1.50"/>
<line x1="131.30" y1="328.08" x2="137.30" y2="328.08" stroke="#000" stroke-width="1.50"/>
<line x1="866.70" y1="328.08" x2="860.70" y2="328.08" stroke="#000" stroke-width="1.50"/>
<line x1="131.30" y1="323.78" x2="137.30" y2="323.78" stroke="#000" stroke-width="1.50"/>
<line x1="866.70" y1="323.78" x2="860.70" y2="323.78" stroke="#000" stroke-width="1.50"/>
<line x1="131.30" y1="319.99" x2="137.30" y2="319.99" stroke="#000" stroke-width="1.50"/>
<line x1="866.70" y1="319.99" x2="860.70" y2="319.99" stroke="#000" stroke-width="1.50"/>
<line x1="131.30" y1="316.60" x2="143.10" y2="316.60" stroke="#000" stroke-width="1.50"/>
<line x1="866.70" y1="316.60" x2="854.90" y2="316.60" stroke="#000" stroke-width="1.50"/>
<line x1="131.30" y1="294.29" x2="137.30" y2="294.29" stroke="#000" stroke-width="1.50"/>
<line x1="866.70" y1="294.29" x2="860.70" y2="294.29" stroke="#000" stroke-width="1.50"/>
<line x1="131.30" y1="281.25" x2="137.30" y2="281.25" stroke="#000" stroke-width="1.50"/>
<line x1="866.70" y1="281.25" x2="860.70" y2="281.25" stroke="#000" stroke-width="1.50"/>
<line x1="131.30" y1="271.99" x2="137.30" y2="271.99" stroke="#000" stroke-width="1.50"/>
<line x1="866.70" y1="271.99" x2="860.70" y2="271.99" stroke="#000" stroke-width="1.50"/>
<line x1="131.30" y1="264.81" x2="137.30" y2="264.81" stroke="#000" stroke-width="1.50"/>
<line x1="866.70" y1="264.81" x2="860.70" y2="264.81" stroke="#000" stroke-width="1.50"/>
<line x1="131.30" y1="258.94" x2="137.30" y2="258.94" stroke="#000" stroke-width="1.50"/>
<line x1="866.70" y1="258.94" x2="860.70" y2="258.94" stroke="#000" stroke-width="1.50"/>
<line x1="131.30" y1="253.98" x2="137.30" y2="253.98" stroke="#000" stroke-width="1.50"/>
<line x1="866.70" y1="253.98" x2="860.70" y2="253.98" stroke="#000" stroke-width="1.50"/>
<line x1="131.30" y1="249.68" x2="137.30" y2="249.68" stroke="#000" stroke-width="1.50"/>
<line x1="866.70" y1="249.68" x2="860.70" y2="249.68" stroke="#000" stroke-width="1.50"/>
<line x1="131.30" y1="245.89" x2="137.30" y2="245.89" stroke="#000" stroke-width="1.50"/>
<line x1="866.70" y1="245.89" x2="860.70" y2="245.89" stroke="#000" stroke-width="1.50"/>
<line x1="131.30" y1="242.50" x2="143.10" y2="242.50" stroke="#000" stroke-width="1.50"/>
<line x1="866.70" y1="242.50" x2="854.90" y2="242.50" stroke="#000" stroke-width="1.50"/>
<line x1="131.30" y1="220.19" x2="137.30" y2="220.19" stroke="#000" stroke-width="1.50"/>
<line x1="866.70" y1="220.19" x2="860.70" y2="220.19" stroke="#000" stroke-width="1.50"/>
<line x1="131.30" y1="207.15" x2="137.30" y2="207.15" stroke="#000" stroke-width="1.50"/>
<line x1="866.70" y1="207.15" x2="860.70" y2="207.15" stroke="#000" stroke-width="1.50"/>
<line x1="131.30" y1="197.89" x2="137.30" y2="197.89" stroke="#000" stroke-width="1.50"/>
<line x1="866.70" y1="197.89" x2="860.70" y2="197.89" stroke="#000" stroke-width="1.50"/>
<line x1="131.30" y1="190.71" x2="137.30" y2="190.71" stroke="#000" stroke-width="1.50"/>
<line x1="866.70" y1="190.71" x2="860.70" y2="190.71" stroke="#000" stroke-width="1.50"/>
<line x1="131.30" y1="184.84" x2="137.30" y2="184.84" stroke="#000" stroke-width="1.50"/>
<line x1="866.70" y1="184.84" x2="860.70" y2="184.84" stroke="#000" stroke-width="1.50"/>
<line x1="131.30" y1="179.88" x2="137.30" y2="179.88" stroke="#000" stroke-width="1.50"/>
<line x1="866.70" y1="179.88" x2="860.70" y2="179.88" stroke="#000" stroke-width="1.50"/>
<line x1="131.30" y1="175.58" x2="137.30" y2="175.58" stroke="#000" stroke-width="1.50"/>
<line x1="866.70" y1="175.58" x2="860.70" y2="175.58" stroke="#000" stroke-width="1.50"/>
<line x1="131.30" y1="171.79" x2="137.30" y2="171.79" stroke="#000" stroke-width="1.50"/>
<line x1="866.70" y1="171.79" x2="860.70" y2="171.79" stroke="#000" stroke-width="1.50"/>
<line x1="131.30" y1="168.40" x2="143.10" y2="168.40" stroke="#000" stroke-width="1.50"/>
<line x1="866.70" y1="168.40" x2="854.90" y2="168.40" stroke="#000" stroke-width="1.50"/>
<line x1="131.30" y1="146.09" x2="137.30" y2="146.09" stroke="#000" stroke-width="1.50"/>
<line x1="866.70" y1="146.09" x2="860.70" y2="146.09" stroke="#000" stroke-width="1.50"/>
<line x1="131.30" y1="133.05" x2="137.30" y2="133.05" stroke="#000" stroke-width="1.50"/>
<line x1="866.70" y1="133.05" x2="860.70" y2="133.05" stroke="#000" stroke-width="1.50"/>
<line x1="131.30" y1="123.79" x2="137.30" y2="123.79" stroke="#000" stroke-width="1.50"/>
<line x1="866.70" y1="123.79" x2="860.70" y2="123.79" stroke="#000" stroke-width="1.50"/>
<line x1="131.30" y1="116.61" x2="137.30" y2="116.61" stroke="#000" stroke-width="1.50"/>
<line x1="866.70" y1="116.61" x2="860.70" y2="116.61" stroke="#000" stroke-width="1.50"/>
<line x1="131.30" y1="110.74" x2="137.30" y2="110.74" stroke="#000" stroke-width="1.50"/>
<line x1="866.70" y1="110.74" x2="860.70" y2="110.74" stroke="#000" stroke-width="1.50"/>
<line x1="131.30" y1="105.78" x2="137.30" y2="105.78" stroke="#000" stroke-width="1.50"/>
<line x1="866.70" y1="105.78" x2="860.70" y2="105.78" stroke="#000" stroke-width="1.50"/>
<line x1="131.30" y1="101.48" x2="137.30" y2="101.48" stroke="#000" stroke-width="1.50"/>
<line x1="866.70" y1="101.48" x2="860.70" y2="101.48" stroke="#000" stroke-width="1.50"/>
<line x1="131.30" y1="97.69" x2="137.30" y2="97.69" stroke="#000" stroke-width="1.50"/>
<line x1="866.70" y1="97.69" x2="860.70" y2="97.69" stroke="#000" stroke-width="1.50"/>
<line x1="131.30" y1="94.30" x2="143.10" y2="94.30" stroke="#000" stroke-width="1.50"/>
<line x1="866.70" y1="94.30" x2="854.90" y2="94.30" stroke="#000" stroke-width="1.50"/>
<line x1="131.30" y1="71.99" x2="137.30" y2="71.99" stroke="#000" stroke-width="1.50"/>
<line x1="866.70" y1="71.99" x2="860.70" y2="71.99" stroke="#000" stroke-width="1.50"/>
<line x1="131.30" y1="58.95" x2="137.30" y2="58.95" stroke="#000" stroke-width="1.50"/>
<line x1="866.70" y1="58.95" x2="860.70" y2="58.95" stroke="#000" stroke-width="1.50"/>
<line x1="131.30" y1="49.69" x2="137.30" y2="49.69" stroke="#000" stroke-width="1.50"/>
<line x1="866.70" y1="49.69" x2="860.70" y2="49.69" stroke="#000" stroke-width="1.50"/>
<line x1="131.30" y1="42.51" x2="137.30" y2="42.51" stroke="#000" stroke-width="1.50"/>
<line x1="866.70" y1="42.51" x2="860.70" y2="42.51" stroke="#000" stroke-width="1.50"/>
<line x1="131.30" y1="36.64" x2="137.30" y2="36.64" stroke="#000" stroke-width="1.50"/>
<line x1="866.70" y1="36.64" x2="860.70" y2="36.64" stroke="#000" stroke-width="1.50"/>
<line x1="131.30" y1="31.68" x2="137.30" y2="31.68" stroke="#000" stroke-width="1.50"/>
<line x1="866.70" y1="31.68" x2="860.70" y2="31.68" stroke="#000" stroke-width="1.50"/>
<line x1="131.30" y1="27.38" x2="137.30" y2="27.38" stroke="#000" stroke-width="1.50"/>
<line x1="866.70" y1="27.38" x2="860.70" y2="27.38" stroke="#000" stroke-width="1.50"/>
<line x1="131.30" y1="23.59" x2="137.30" y2="23.59" stroke="#000" stroke-width="1.50"/>
<line x1="866.70" y1="23.59" x2="860.70" y2="23.59" stroke="#000" stroke-width="1.50"/>
<text font-size="24.60" textLength="23.5" lengthAdjust="spacingAndGlyphs" x="86.21" y="547.20">10</text>
<text font-size="14.20" textLength="7.6" lengthAdjust="spacingAndGlyphs" x="111.40" y="535.40">1</text>
<text font-size="24.60" textLength="23.5" lengthAdjust="spacingAndGlyphs" x="86.21" y="473.10">10</text>
<text font-size="14.20" textLength="7.6" lengthAdjust="spacingAndGlyphs" x="111.40" y="461.30">2</text>
<text font-size="24.60" textLength="23.5" lengthAdjust="spacingAndGlyphs" x="86.21" y="399.00">10</text>
<text font-size="14.20" textLength="7.6" lengthAdjust="spacingAndGlyphs" x="111.40" y="387.20">3</text>
<text font-size="24.60" textLength="23.5" lengthAdjust="spacingAndGlyphs" x="86.21" y="324.90">10</text>
<text font-size="14.20" textLength="7.6" lengthAdjust="spacingAndGlyphs" x="111.40" y="313.10">4</text>
<text font-size="24.60" textLength="23.5" lengthAdjust="spacingAndGlyphs" x="86.21" y="250.80">10</text>
<text font-size="14.20" textLength="7.6" lengthAdjust="spacingAndGlyphs" x="111.40" y="239.00">5</text>
<text font-size="24.60" textLength="23.5" lengthAdjust="spacingAndGlyphs" x="86.21" y="176.70">10</text>
<text font-size="14.20" textLength="7.6" lengthAdjust="spacingAndGlyphs" x="111.40" y="164.90">6</text>
<text font-size="24.60" textLength="23.5" lengthAdjust="spacingAndGlyphs" x="86.21" y="102.60">10</text>
<text font-size="14.20" textLength="7.6" lengthAdjust="spacingAndGlyphs" x="111.40" y="90.80">7</text>
<text font-size="24.60" textLength="23.5" lengthAdjust="spacingAndGlyphs" x="86.21" y="28.50">10</text>
<text font-size="14.20" textLength="7.6" lengthAdjust="spacingAndGlyphs" x="111.40" y="16.70">8</text>
<text font-size="32.00" textLength="37.7" lengthAdjust="spacingAndGlyphs" x="129.94" y="598.30">45</text>
<text font-size="32.00" textLength="37.8" lengthAdjust="spacingAndGlyphs" x="309.34" y="598.30">46</text>
<text font-size="32.00" textLength="38.1" lengthAdjust="spacingAndGlyphs" x="488.73" y="598.30">47</text>
<text font-size="32.00" textLength="37.8" lengthAdjust="spacingAndGlyphs" x="668.14" y="598.30">48</text>
<text font-size="32.00" textLength="37.9" lengthAdjust="spacingAndGlyphs" x="847.53" y="598.30">49</text>
<text font-size="45.30" textLength="290.7" lengthAdjust="spacingAndGlyphs" transform="translate(47.60 421.24) rotate(-90)">Intensity (a.u.)</text>
<text y="668.6"><tspan x="442.43" font-size="46.40" textLength="27.5" lengthAdjust="spacingAndGlyphs">2</tspan><tspan x="471.81" font-size="44.60" textLength="28.4" lengthAdjust="spacingAndGlyphs" font-style="italic" font-family='"Liberation Serif", "Times New Roman", serif'>θ</tspan><tspan x="504.08" font-size="46.40" textLength="51.5" lengthAdjust="spacingAndGlyphs">(°)</tspan></text>
<text font-size="52.00" font-weight="bold" textLength="63.4" lengthAdjust="spacingAndGlyphs" x="-1.59" y="38.60">(a)</text>
<text font-size="34.20" font-weight="bold" fill="#ff0000" textLength="189.1" lengthAdjust="spacingAndGlyphs" x="153.06" y="72.60">SMO 20 nm</text>
<line x1="442.3" y1="51.8" x2="458.9" y2="51.8" stroke="#000" stroke-width="3.8" stroke-linecap="round"/>
<line x1="480.4" y1="51.8" x2="497.7" y2="51.8" stroke="#000" stroke-width="3.8" stroke-linecap="round"/>
<line x1="442.3" y1="88.6" x2="501.1" y2="88.6" stroke="#ff0000" stroke-width="3.8" stroke-linecap="round"/>
<text font-size="29.50" font-weight="bold" textLength="343.8" lengthAdjust="spacingAndGlyphs" x="508.35" y="61.10">Before oxygen annealing</text>
<text font-size="29.50" font-weight="bold" fill="#ff0000" textLength="319.8" lengthAdjust="spacingAndGlyphs" x="508.28" y="97.30">After oxygen annealing</text>
<text font-size="27.80" font-weight="bold" textLength="131.5" lengthAdjust="spacingAndGlyphs" transform="translate(208.10 284.13) rotate(-90)">SRO (002)</text>
<text font-size="27.80" font-weight="bold" textLength="143.4" lengthAdjust="spacingAndGlyphs" transform="translate(469.70 274.48) rotate(-90)">LSAT (002)</text>
<text font-size="27.80" font-weight="bold" textLength="132.2" lengthAdjust="spacingAndGlyphs" transform="translate(730.60 308.81) rotate(-90)">SMO (002)</text>
<path d="M700.3 319.1 h26.4 v-5.1 l13.0 8.5 l-13.0 8.5 v-5.1 h-26.4 z" fill="#cc0066"/>
<g clip-path="url(#clipB)" fill="none" stroke-linejoin="round">
<path d="M1040.0 452.5 L1041.7 468.2 M1046.2 459.2 L1049.5 465.9 M1054.5 458.1 L1056.2 460.9 M1072.4 452.0 L1074.0 453.7 M1079.1 440.3 L1082.4 458.1 M1094.1 448.6 L1095.8 450.9 M1097.5 463.1 L1096.4 473.2 M1099.7 447.0 L1101.9 448.6 M1117.5 436.9 L1119.8 443.6 M1129.3 434.1 L1130.4 435.8 M1138.2 424.7 L1135.9 440.8 M1147.1 426.9 L1149.9 430.2 M1163.8 421.3 L1166.1 420.2 M1180.0 405.1 L1185.6 401.8 M1191.2 402.9 L1197.3 400.7 M1200.1 413.5 L1202.3 414.6 M1210.1 414.1 L1212.4 415.2 M1228.0 409.0 L1229.6 411.3 M1244.8 421.0 L1247.2 424.7 M1258.3 419.8 L1260.7 423.4 M1262.0 433.3 L1264.4 438.8 M1265.6 425.3 L1275.5 423.4 M1284.0 434.5 L1285.9 435.7 M1289.0 443.1 L1292.6 439.4 M1293.9 424.7 L1297.5 427.7 M1304.3 445.5 L1307.4 435.7 M1322.7 435.7 L1326.4 425.9 M1333.1 419.8 L1336.2 424.0 M1342.3 427.7 L1345.0 413.6 M1355.6 407.7 L1362.9 400.7 M1366.7 392.2 L1370.7 383.9 M1374.5 373.2 L1379.6 363.2 M1386.3 344.2 L1390.1 325.3 M1394.6 306.3 L1397.5 287.3 M1399.0 268.4 L1400.6 249.4 M1400.6 230.5 L1401.3 211.5 M1402.4 192.5 L1403.5 174.7 M1408.6 135.7 L1409.5 156.8 M1410.9 176.9 L1413.5 193.6 M1414.2 212.6 L1415.3 230.5 M1416.9 249.4 L1418.4 267.3 M1418.4 288.5 L1420.2 306.3 M1422.5 326.4 L1425.8 342.0 M1432.5 357.6 L1440.3 369.9 M1448.1 384.4 L1458.1 390.0 M1464.8 397.8 L1473.8 393.3 M1480.0 401.2 L1487.4 402.7 M1492.6 404.2 L1497.8 395.3 M1502.3 404.2 L1509.7 407.2 M1513.4 417.6 L1515.7 411.6 M1526.1 407.2 L1532.0 399.0 M1540.9 382.6 L1549.9 376.7 M1556.6 359.6 L1566.2 345.5 M1572.2 329.1 L1580.3 317.2 M1587.8 303.9 L1602.6 300.9 M1610.1 320.9 L1617.5 337.3 M1622.7 352.9 L1631.6 364.8 M1638.3 377.4 L1648.7 390.1 M1660.6 401.2 L1665.6 416.2 M1668.5 416.3 L1676.2 416.8 M1679.2 422.0 L1688.1 428.7 M1690.5 428.9 L1695.2 441.4 M1697.2 446.6 L1699.8 440.4 M1703.5 446.6 L1704.5 439.3 M1710.8 450.8 L1711.8 455.5 M1717.5 454.4 L1719.6 440.4 M1724.8 460.1 L1728.5 459.6 M1731.1 453.9 L1734.7 450.8 M1737.8 466.9 L1746.2 469.0 M1746.4 462.2 L1747.7 453.9 M1752.4 457.0 L1754.5 456.0 M1755.5 463.3 L1757.6 481.0 L1760.2 462.2 M1765.4 459.1 L1769.1 473.7 L1770.6 492.4 L1772.2 473.7" stroke="#000" stroke-width="3.4"/>
<path d="M1039.5 447.0 L1040.8 450.4 L1042.0 447.1 L1043.2 446.7 L1044.5 444.0 L1045.8 447.2 L1047.0 461.0 L1048.2 450.0 L1049.5 452.7 L1050.8 449.2 L1052.0 449.8 L1053.2 439.9 L1054.5 440.8 L1055.8 451.9 L1057.0 450.3 L1058.2 450.2 L1059.5 440.4 L1060.8 440.1 L1062.0 433.9 L1063.2 445.7 L1064.5 449.1 L1065.8 447.5 L1067.0 450.0 L1068.2 461.9 L1069.5 449.0 L1070.8 449.4 L1072.0 444.7 L1073.2 455.2 L1074.5 450.1 L1075.8 452.9 L1077.0 444.8 L1078.2 444.3 L1079.5 446.0 L1080.8 446.7 L1082.0 449.5 L1083.2 447.5 L1084.5 444.0 L1085.8 441.4 L1087.0 442.9 L1088.2 450.1 L1089.5 440.8 L1090.8 445.0 L1092.0 445.3 L1093.2 436.3 L1094.5 442.6 L1095.8 447.6 L1097.0 432.5 L1098.2 439.5 L1099.5 439.9 L1100.8 436.3 L1102.0 441.6 L1103.2 438.7 L1104.5 432.2 L1105.8 441.9 L1107.0 440.8 L1108.2 441.7 L1109.5 443.5 L1110.8 438.3 L1112.0 436.9 L1113.2 430.3 L1114.5 438.3 L1115.8 432.5 L1117.0 432.9 L1118.2 428.9 L1119.5 429.9 L1120.8 431.4 L1122.0 439.0 L1123.2 424.0 L1124.5 426.1 L1125.8 432.6 L1127.0 437.1 L1128.2 432.4 L1129.5 420.6 L1130.8 416.9 L1132.0 428.7 L1133.2 423.0 L1134.5 420.4 L1135.8 428.8 L1137.0 428.8 L1138.2 424.0 L1139.5 423.8 L1140.8 424.0 L1142.0 420.5 L1143.2 423.6 L1144.5 422.6 L1145.8 421.4 L1147.0 414.3 L1148.2 422.6 L1149.5 421.1 L1150.8 419.3 L1152.0 399.1 L1153.2 414.7 L1154.5 418.8 L1155.8 410.1 L1157.0 414.6 L1158.2 418.0 L1159.5 410.7 L1160.8 419.6 L1162.0 416.2 L1163.2 413.9 L1164.5 415.2 L1165.8 416.1 L1167.0 414.4 L1168.2 417.4 L1169.5 411.7 L1170.8 412.4 L1172.0 416.7 L1173.2 413.5 L1174.5 410.6 L1175.8 416.1 L1177.0 417.6 L1178.2 411.6 L1179.5 408.6 L1180.8 412.2 L1182.0 411.9 L1183.2 411.2 L1184.5 416.2 L1185.8 408.4 L1187.0 415.2 L1188.2 407.1 L1189.5 408.3 L1190.8 412.4 L1192.0 413.7 L1193.2 412.6 L1194.5 410.8 L1195.8 409.9 L1197.0 409.7 L1198.2 410.8 L1199.5 408.2 L1200.8 409.4 L1202.0 410.0 L1203.2 408.4 L1204.5 411.0 L1205.8 410.6 L1207.0 415.3 L1208.2 410.4 L1209.5 408.3 L1210.8 408.7 L1212.0 410.1 L1213.2 413.2 L1214.5 409.8 L1215.8 412.5 L1217.0 417.5 L1218.2 404.4 L1219.5 409.4 L1220.8 414.0 L1222.0 414.9 L1223.2 414.8 L1224.5 413.2 L1225.8 416.7 L1227.0 415.7 L1228.2 413.4 L1229.5 422.7 L1230.8 416.4 L1232.0 413.8 L1233.2 415.4 L1234.5 415.2 L1235.8 416.8 L1237.0 410.0 L1238.2 418.2 L1239.5 425.5 L1240.8 428.1 L1242.0 422.2 L1243.2 426.9 L1244.5 426.8 L1245.8 429.8 L1247.0 416.0 L1248.2 422.2 L1249.5 422.5 L1250.8 435.0 L1252.0 429.5 L1253.2 413.2 L1254.5 430.2 L1255.8 419.4 L1257.0 429.1 L1258.2 419.9 L1259.5 427.6 L1260.8 432.4 L1262.0 426.8 L1263.2 428.5 L1264.5 431.5 L1265.8 428.8 L1267.0 428.1 L1268.2 435.5 L1269.5 433.6 L1270.8 427.9 L1272.0 441.6 L1273.2 424.7 L1274.5 433.8 L1275.8 428.5 L1277.0 430.1 L1278.2 432.5 L1279.5 430.3 L1280.8 432.0 L1282.0 422.4 L1283.2 422.4 L1284.5 431.6 L1285.8 424.6 L1287.0 424.7 L1288.2 423.2 L1289.5 435.7 L1290.8 433.9 L1292.0 437.6 L1293.2 427.5 L1294.5 432.1 L1295.8 427.5 L1297.0 436.4 L1298.2 440.5 L1299.5 429.8 L1300.8 440.9 L1302.0 438.6 L1303.2 433.7 L1304.5 425.9 L1305.8 440.1 L1307.0 432.9 L1308.2 430.0 L1309.5 433.8 L1310.8 433.1 L1312.0 429.3 L1313.2 425.6 L1314.5 434.4 L1315.8 435.3 L1317.0 434.3 L1318.2 426.0 L1319.5 422.4 L1320.8 429.0 L1322.0 423.8 L1323.2 422.7 L1324.5 427.3 L1325.8 419.1 L1327.0 411.7 L1328.2 416.4 L1329.5 411.1 L1330.8 418.7 L1332.0 416.6 L1333.2 413.1 L1334.5 414.4 L1335.8 416.4 L1337.0 413.5 L1338.2 416.7 L1339.5 409.7 L1340.8 409.3 L1342.0 406.8 L1343.2 405.6 L1344.5 398.7 L1345.8 400.5 L1347.0 395.1 L1348.2 395.6 L1349.5 393.3 L1350.8 392.4 L1352.0 382.9 L1353.2 380.6 L1354.5 376.2 L1355.8 372.0 L1357.0 369.6 L1358.2 368.4 L1359.5 367.9 L1360.8 364.3 L1362.0 359.8 L1363.2 355.2 L1364.5 349.4 L1365.8 345.1 L1367.0 342.4 L1368.2 340.2 L1369.5 331.2 L1370.8 325.9 L1372.0 320.0 L1373.2 313.9 L1374.5 309.0 L1375.8 304.6 L1377.0 299.8 L1378.2 294.6 L1379.5 289.8 L1380.8 285.7 L1382.0 282.1 L1383.2 277.4 L1384.5 273.1 L1385.8 269.0 L1387.0 264.5 L1388.2 260.5 L1389.5 253.9 L1390.8 248.3 L1392.0 241.0 L1393.2 235.2 L1394.5 223.2 L1395.8 211.1 L1397.0 201.0 L1398.2 196.2 L1399.5 189.2 L1400.8 160.7 L1402.0 138.9 L1403.2 149.7 L1404.5 131.9 L1405.8 130.9 L1407.0 150.9 L1408.2 189.5 L1409.5 191.9 L1410.8 193.7 L1412.0 211.9 L1413.2 229.8 L1414.5 243.9 L1415.8 261.7 L1417.0 287.4 L1418.2 295.5 L1419.5 303.1 L1420.8 308.3 L1422.0 315.5 L1423.2 322.6 L1424.5 327.7 L1425.8 334.9 L1427.0 342.2 L1428.2 346.7 L1429.5 353.5 L1430.8 360.0 L1432.0 361.9 L1433.2 365.6 L1434.5 368.8 L1435.8 372.2 L1437.0 374.3 L1438.2 377.1 L1439.5 378.6 L1440.8 380.7 L1442.0 384.7 L1443.2 385.2 L1444.5 385.5 L1445.8 387.4 L1447.0 395.1 L1448.2 394.4 L1449.5 395.3 L1450.8 391.6 L1452.0 398.5 L1453.2 399.9 L1454.5 405.3 L1455.8 401.9 L1457.0 400.9 L1458.2 403.2 L1459.5 396.1 L1460.8 405.8 L1462.0 404.0 L1463.2 401.1 L1464.5 407.7 L1465.8 409.5 L1467.0 400.1 L1468.2 403.1 L1469.5 406.8 L1470.8 407.1 L1472.0 406.0 L1473.2 405.0 L1474.5 415.0 L1475.8 412.0 L1477.0 405.4 L1478.2 405.2 L1479.5 414.8 L1480.8 412.8 L1482.0 415.6 L1483.2 412.6 L1484.5 415.6 L1485.8 411.2 L1487.0 403.9 L1488.2 408.4 L1489.5 410.7 L1490.8 412.7 L1492.0 409.0 L1493.2 411.0 L1494.5 413.0 L1495.8 412.7 L1497.0 413.3 L1498.2 411.8 L1499.5 410.0 L1500.8 413.3 L1502.0 419.8 L1503.2 408.0 L1504.5 408.4 L1505.8 410.2 L1507.0 409.7 L1508.2 410.4 L1509.5 409.7 L1510.8 410.4 L1512.0 409.6 L1513.2 406.3 L1514.5 411.6 L1515.8 413.7 L1517.0 412.0 L1518.2 410.2 L1519.5 412.3 L1520.8 408.1 L1522.0 405.4 L1523.2 411.6 L1524.5 408.7 L1525.8 413.8 L1527.0 408.0 L1528.2 403.1 L1529.5 407.8 L1530.8 415.8 L1532.0 409.6 L1533.2 406.4 L1534.5 408.1 L1535.8 412.0 L1537.0 411.7 L1538.2 409.6 L1539.5 408.5 L1540.8 400.0 L1542.0 396.8 L1543.2 396.3 L1544.5 396.5 L1545.8 393.8 L1547.0 392.4 L1548.2 387.2 L1549.5 387.1 L1550.8 387.0 L1552.0 383.4 L1553.2 383.5 L1554.5 380.1 L1555.8 378.3 L1557.0 374.1 L1558.2 373.4 L1559.5 369.0 L1560.8 364.5 L1562.0 363.8 L1563.2 365.6 L1564.5 362.6 L1565.8 362.2 L1567.0 356.4 L1568.2 352.0 L1569.5 350.6 L1570.8 351.3 L1572.0 351.1 L1573.2 350.3 L1574.5 348.3 L1575.8 345.9 L1577.0 345.0 L1578.2 343.3 L1579.5 341.6 L1580.8 340.1 L1582.0 338.5 L1583.2 338.2 L1584.5 335.9 L1585.8 335.5 L1587.0 335.2 L1588.2 333.2 L1589.5 332.7 L1590.8 329.8 L1592.0 329.7 L1593.2 328.7 L1594.5 327.1 L1595.8 324.7 L1597.0 322.4 L1598.2 319.7 L1599.5 318.8 L1600.8 316.1 L1602.0 314.1 L1603.2 311.2 L1604.5 309.3 L1605.8 306.5 L1607.0 305.8 L1608.2 304.6 L1609.5 302.2 L1610.8 301.7 L1612.0 300.6 L1613.2 299.7 L1614.5 300.1 L1615.8 300.8 L1617.0 301.5 L1618.2 302.0 L1619.5 303.5 L1620.8 304.4 L1622.0 305.8 L1623.2 307.4 L1624.5 309.2 L1625.8 310.7 L1627.0 311.2 L1628.2 312.7 L1629.5 313.6 L1630.8 314.7 L1632.0 316.2 L1633.2 317.3 L1634.5 317.9 L1635.8 317.6 L1637.0 318.2 L1638.2 319.2 L1639.5 319.7 L1640.8 320.4 L1642.0 321.2 L1643.2 321.7 L1644.5 323.0 L1645.8 323.6 L1647.0 324.9 L1648.2 327.1 L1649.5 329.8 L1650.8 329.9 L1652.0 332.3 L1653.2 333.6 L1654.5 332.7 L1655.8 335.0 L1657.0 336.8 L1658.2 337.3 L1659.5 340.2 L1660.8 342.0 L1662.0 344.8 L1663.2 347.5 L1664.5 349.4 L1665.8 351.2 L1667.0 354.4 L1668.2 356.3 L1669.5 358.7 L1670.8 360.0 L1672.0 361.2 L1673.2 365.1 L1674.5 370.5 L1675.8 372.2 L1677.0 373.5 L1678.2 376.1 L1679.5 377.7 L1680.8 381.2 L1682.0 384.7 L1683.2 386.1 L1684.5 393.8 L1685.8 392.8 L1687.0 398.5 L1688.2 400.4 L1689.5 405.9 L1690.8 397.7 L1692.0 405.2 L1693.2 410.7 L1694.5 414.2 L1695.8 421.9 L1697.0 418.1 L1698.2 426.3 L1699.5 427.6 L1700.8 431.8 L1702.0 433.2 L1703.2 432.6 L1704.5 437.4 L1705.8 432.3 L1707.0 443.7 L1708.2 446.8 L1709.5 441.1 L1710.8 450.1 L1712.0 440.3 L1713.2 440.8 L1714.5 445.2 L1715.8 439.5 L1717.0 435.0 L1718.2 438.7 L1719.5 439.1 L1720.8 438.7 L1722.0 432.1 L1723.2 443.7 L1724.5 443.9 L1725.8 437.1 L1727.0 438.6 L1728.2 435.7 L1729.5 444.0 L1730.8 423.9 L1732.0 441.2 L1733.2 437.0 L1734.5 437.7 L1735.8 445.5 L1737.0 449.0 L1738.2 457.9 L1739.5 455.7 L1740.8 449.0 L1742.0 445.9 L1743.2 448.1 L1744.5 454.1 L1745.8 452.1 L1747.0 443.7 L1748.2 454.9 L1749.5 443.8 L1750.8 447.6 L1752.0 442.1 L1753.2 445.6 L1754.5 438.9 L1755.8 454.9 L1757.0 466.5 L1758.2 455.5 L1759.5 441.7 L1760.8 441.5 L1762.0 452.7 L1763.2 444.5 L1764.5 445.5 L1765.8 448.0 L1767.0 452.4 L1768.2 449.7 L1769.5 470.2 L1770.8 451.3 L1772.0 461.1 L1773.2 467.4 L1774.5 472.8" stroke="#0000ff" stroke-width="4.0" stroke-linecap="round"/>
</g>
<rect x="1039.30" y="20.10" width="735.40" height="541.70" fill="none" stroke="#000" stroke-width="1.80"/>
<line x1="1057.60" y1="561.80" x2="1057.60" y2="550.30" stroke="#000" stroke-width="1.50"/>
<line x1="1057.60" y1="20.10" x2="1057.60" y2="31.60" stroke="#000" stroke-width="1.50"/>
<line x1="1147.30" y1="561.80" x2="1147.30" y2="555.60" stroke="#000" stroke-width="1.50"/>
<line x1="1147.30" y1="20.10" x2="1147.30" y2="26.30" stroke="#000" stroke-width="1.50"/>
<line x1="1237.00" y1="561.80" x2="1237.00" y2="550.30" stroke="#000" stroke-width="1.50"/>
<line x1="1237.00" y1="20.10" x2="1237.00" y2="31.60" stroke="#000" stroke-width="1.50"/>
<line x1="1326.70" y1="561.80" x2="1326.70" y2="555.60" stroke="#000" stroke-width="1.50"/>
<line x1="1326.70" y1="20.10" x2="1326.70" y2="26.30" stroke="#000" stroke-width="1.50"/>
<line x1="1416.40" y1="561.80" x2="1416.40" y2="550.30" stroke="#000" stroke-width="1.50"/>
<line x1="1416.40" y1="20.10" x2="1416.40" y2="31.60" stroke="#000" stroke-width="1.50"/>
<line x1="1506.10" y1="561.80" x2="1506.10" y2="555.60" stroke="#000" stroke-width="1.50"/>
<line x1="1506.10" y1="20.10" x2="1506.10" y2="26.30" stroke="#000" stroke-width="1.50"/>
<line x1="1595.80" y1="561.80" x2="1595.80" y2="550.30" stroke="#000" stroke-width="1.50"/>
<line x1="1595.80" y1="20.10" x2="1595.80" y2="31.60" stroke="#000" stroke-width="1.50"/>
<line x1="1685.50" y1="561.80" x2="1685.50" y2="555.60" stroke="#000" stroke-width="1.50"/>
<line x1="1685.50" y1="20.10" x2="1685.50" y2="26.30" stroke="#000" stroke-width="1.50"/>
<line x1="1039.30" y1="561.21" x2="1045.30" y2="561.21" stroke="#000" stroke-width="1.50"/>
<line x1="1774.70" y1="561.21" x2="1768.70" y2="561.21" stroke="#000" stroke-width="1.50"/>
<line x1="1039.30" y1="555.34" x2="1045.30" y2="555.34" stroke="#000" stroke-width="1.50"/>
<line x1="1774.70" y1="555.34" x2="1768.70" y2="555.34" stroke="#000" stroke-width="1.50"/>
<line x1="1039.30" y1="550.38" x2="1045.30" y2="550.38" stroke="#000" stroke-width="1.50"/>
<line x1="1774.70" y1="550.38" x2="1768.70" y2="550.38" stroke="#000" stroke-width="1.50"/>
<line x1="1039.30" y1="546.08" x2="1045.30" y2="546.08" stroke="#000" stroke-width="1.50"/>
<line x1="1774.70" y1="546.08" x2="1768.70" y2="546.08" stroke="#000" stroke-width="1.50"/>
<line x1="1039.30" y1="542.29" x2="1045.30" y2="542.29" stroke="#000" stroke-width="1.50"/>
<line x1="1774.70" y1="542.29" x2="1768.70" y2="542.29" stroke="#000" stroke-width="1.50"/>
<line x1="1039.30" y1="538.90" x2="1051.10" y2="538.90" stroke="#000" stroke-width="1.50"/>
<line x1="1774.70" y1="538.90" x2="1762.90" y2="538.90" stroke="#000" stroke-width="1.50"/>
<line x1="1039.30" y1="516.59" x2="1045.30" y2="516.59" stroke="#000" stroke-width="1.50"/>
<line x1="1774.70" y1="516.59" x2="1768.70" y2="516.59" stroke="#000" stroke-width="1.50"/>
<line x1="1039.30" y1="503.55" x2="1045.30" y2="503.55" stroke="#000" stroke-width="1.50"/>
<line x1="1774.70" y1="503.55" x2="1768.70" y2="503.55" stroke="#000" stroke-width="1.50"/>
<line x1="1039.30" y1="494.29" x2="1045.30" y2="494.29" stroke="#000" stroke-width="1.50"/>
<line x1="1774.70" y1="494.29" x2="1768.70" y2="494.29" stroke="#000" stroke-width="1.50"/>
<line x1="1039.30" y1="487.11" x2="1045.30" y2="487.11" stroke="#000" stroke-width="1.50"/>
<line x1="1774.70" y1="487.11" x2="1768.70" y2="487.11" stroke="#000" stroke-width="1.50"/>
<line x1="1039.30" y1="481.24" x2="1045.30" y2="481.24" stroke="#000" stroke-width="1.50"/>
<line x1="1774.70" y1="481.24" x2="1768.70" y2="481.24" stroke="#000" stroke-width="1.50"/>
<line x1="1039.30" y1="476.28" x2="1045.30" y2="476.28" stroke="#000" stroke-width="1.50"/>
<line x1="1774.70" y1="476.28" x2="1768.70" y2="476.28" stroke="#000" stroke-width="1.50"/>
<line x1="1039.30" y1="471.98" x2="1045.30" y2="471.98" stroke="#000" stroke-width="1.50"/>
<line x1="1774.70" y1="471.98" x2="1768.70" y2="471.98" stroke="#000" stroke-width="1.50"/>
<line x1="1039.30" y1="468.19" x2="1045.30" y2="468.19" stroke="#000" stroke-width="1.50"/>
<line x1="1774.70" y1="468.19" x2="1768.70" y2="468.19" stroke="#000" stroke-width="1.50"/>
<line x1="1039.30" y1="464.80" x2="1051.10" y2="464.80" stroke="#000" stroke-width="1.50"/>
<line x1="1774.70" y1="464.80" x2="1762.90" y2="464.80" stroke="#000" stroke-width="1.50"/>
<line x1="1039.30" y1="442.49" x2="1045.30" y2="442.49" stroke="#000" stroke-width="1.50"/>
<line x1="1774.70" y1="442.49" x2="1768.70" y2="442.49" stroke="#000" stroke-width="1.50"/>
<line x1="1039.30" y1="429.45" x2="1045.30" y2="429.45" stroke="#000" stroke-width="1.50"/>
<line x1="1774.70" y1="429.45" x2="1768.70" y2="429.45" stroke="#000" stroke-width="1.50"/>
<line x1="1039.30" y1="420.19" x2="1045.30" y2="420.19" stroke="#000" stroke-width="1.50"/>
<line x1="1774.70" y1="420.19" x2="1768.70" y2="420.19" stroke="#000" stroke-width="1.50"/>
<line x1="1039.30" y1="413.01" x2="1045.30" y2="413.01" stroke="#000" stroke-width="1.50"/>
<line x1="1774.70" y1="413.01" x2="1768.70" y2="413.01" stroke="#000" stroke-width="1.50"/>
<line x1="1039.30" y1="407.14" x2="1045.30" y2="407.14" stroke="#000" stroke-width="1.50"/>
<line x1="1774.70" y1="407.14" x2="1768.70" y2="407.14" stroke="#000" stroke-width="1.50"/>
<line x1="1039.30" y1="402.18" x2="1045.30" y2="402.18" stroke="#000" stroke-width="1.50"/>
<line x1="1774.70" y1="402.18" x2="1768.70" y2="402.18" stroke="#000" stroke-width="1.50"/>
<line x1="1039.30" y1="397.88" x2="1045.30" y2="397.88" stroke="#000" stroke-width="1.50"/>
<line x1="1774.70" y1="397.88" x2="1768.70" y2="397.88" stroke="#000" stroke-width="1.50"/>
<line x1="1039.30" y1="394.09" x2="1045.30" y2="394.09" stroke="#000" stroke-width="1.50"/>
<line x1="1774.70" y1="394.09" x2="1768.70" y2="394.09" stroke="#000" stroke-width="1.50"/>
<line x1="1039.30" y1="390.70" x2="1051.10" y2="390.70" stroke="#000" stroke-width="1.50"/>
<line x1="1774.70" y1="390.70" x2="1762.90" y2="390.70" stroke="#000" stroke-width="1.50"/>
<line x1="1039.30" y1="368.39" x2="1045.30" y2="368.39" stroke="#000" stroke-width="1.50"/>
<line x1="1774.70" y1="368.39" x2="1768.70" y2="368.39" stroke="#000" stroke-width="1.50"/>
<line x1="1039.30" y1="355.35" x2="1045.30" y2="355.35" stroke="#000" stroke-width="1.50"/>
<line x1="1774.70" y1="355.35" x2="1768.70" y2="355.35" stroke="#000" stroke-width="1.50"/>
<line x1="1039.30" y1="346.09" x2="1045.30" y2="346.09" stroke="#000" stroke-width="1.50"/>
<line x1="1774.70" y1="346.09" x2="1768.70" y2="346.09" stroke="#000" stroke-width="1.50"/>
<line x1="1039.30" y1="338.91" x2="1045.30" y2="338.91" stroke="#000" stroke-width="1.50"/>
<line x1="1774.70" y1="338.91" x2="1768.70" y2="338.91" stroke="#000" stroke-width="1.50"/>
<line x1="1039.30" y1="333.04" x2="1045.30" y2="333.04" stroke="#000" stroke-width="1.50"/>
<line x1="1774.70" y1="333.04" x2="1768.70" y2="333.04" stroke="#000" stroke-width="1.50"/>
<line x1="1039.30" y1="328.08" x2="1045.30" y2="328.08" stroke="#000" stroke-width="1.50"/>
<line x1="1774.70" y1="328.08" x2="1768.70" y2="328.08" stroke="#000" stroke-width="1.50"/>
<line x1="1039.30" y1="323.78" x2="1045.30" y2="323.78" stroke="#000" stroke-width="1.50"/>
<line x1="1774.70" y1="323.78" x2="1768.70" y2="323.78" stroke="#000" stroke-width="1.50"/>
<line x1="1039.30" y1="319.99" x2="1045.30" y2="319.99" stroke="#000" stroke-width="1.50"/>
<line x1="1774.70" y1="319.99" x2="1768.70" y2="319.99" stroke="#000" stroke-width="1.50"/>
<line x1="1039.30" y1="316.60" x2="1051.10" y2="316.60" stroke="#000" stroke-width="1.50"/>
<line x1="1774.70" y1="316.60" x2="1762.90" y2="316.60" stroke="#000" stroke-width="1.50"/>
<line x1="1039.30" y1="294.29" x2="1045.30" y2="294.29" stroke="#000" stroke-width="1.50"/>
<line x1="1774.70" y1="294.29" x2="1768.70" y2="294.29" stroke="#000" stroke-width="1.50"/>
<line x1="1039.30" y1="281.25" x2="1045.30" y2="281.25" stroke="#000" stroke-width="1.50"/>
<line x1="1774.70" y1="281.25" x2="1768.70" y2="281.25" stroke="#000" stroke-width="1.50"/>
<line x1="1039.30" y1="271.99" x2="1045.30" y2="271.99" stroke="#000" stroke-width="1.50"/>
<line x1="1774.70" y1="271.99" x2="1768.70" y2="271.99" stroke="#000" stroke-width="1.50"/>
<line x1="1039.30" y1="264.81" x2="1045.30" y2="264.81" stroke="#000" stroke-width="1.50"/>
<line x1="1774.70" y1="264.81" x2="1768.70" y2="264.81" stroke="#000" stroke-width="1.50"/>
<line x1="1039.30" y1="258.94" x2="1045.30" y2="258.94" stroke="#000" stroke-width="1.50"/>
<line x1="1774.70" y1="258.94" x2="1768.70" y2="258.94" stroke="#000" stroke-width="1.50"/>
<line x1="1039.30" y1="253.98" x2="1045.30" y2="253.98" stroke="#000" stroke-width="1.50"/>
<line x1="1774.70" y1="253.98" x2="1768.70" y2="253.98" stroke="#000" stroke-width="1.50"/>
<line x1="1039.30" y1="249.68" x2="1045.30" y2="249.68" stroke="#000" stroke-width="1.50"/>
<line x1="1774.70" y1="249.68" x2="1768.70" y2="249.68" stroke="#000" stroke-width="1.50"/>
<line x1="1039.30" y1="245.89" x2="1045.30" y2="245.89" stroke="#000" stroke-width="1.50"/>
<line x1="1774.70" y1="245.89" x2="1768.70" y2="245.89" stroke="#000" stroke-width="1.50"/>
<line x1="1039.30" y1="242.50" x2="1051.10" y2="242.50" stroke="#000" stroke-width="1.50"/>
<line x1="1774.70" y1="242.50" x2="1762.90" y2="242.50" stroke="#000" stroke-width="1.50"/>
<line x1="1039.30" y1="220.19" x2="1045.30" y2="220.19" stroke="#000" stroke-width="1.50"/>
<line x1="1774.70" y1="220.19" x2="1768.70" y2="220.19" stroke="#000" stroke-width="1.50"/>
<line x1="1039.30" y1="207.15" x2="1045.30" y2="207.15" stroke="#000" stroke-width="1.50"/>
<line x1="1774.70" y1="207.15" x2="1768.70" y2="207.15" stroke="#000" stroke-width="1.50"/>
<line x1="1039.30" y1="197.89" x2="1045.30" y2="197.89" stroke="#000" stroke-width="1.50"/>
<line x1="1774.70" y1="197.89" x2="1768.70" y2="197.89" stroke="#000" stroke-width="1.50"/>
<line x1="1039.30" y1="190.71" x2="1045.30" y2="190.71" stroke="#000" stroke-width="1.50"/>
<line x1="1774.70" y1="190.71" x2="1768.70" y2="190.71" stroke="#000" stroke-width="1.50"/>
<line x1="1039.30" y1="184.84" x2="1045.30" y2="184.84" stroke="#000" stroke-width="1.50"/>
<line x1="1774.70" y1="184.84" x2="1768.70" y2="184.84" stroke="#000" stroke-width="1.50"/>
<line x1="1039.30" y1="179.88" x2="1045.30" y2="179.88" stroke="#000" stroke-width="1.50"/>
<line x1="1774.70" y1="179.88" x2="1768.70" y2="179.88" stroke="#000" stroke-width="1.50"/>
<line x1="1039.30" y1="175.58" x2="1045.30" y2="175.58" stroke="#000" stroke-width="1.50"/>
<line x1="1774.70" y1="175.58" x2="1768.70" y2="175.58" stroke="#000" stroke-width="1.50"/>
<line x1="1039.30" y1="171.79" x2="1045.30" y2="171.79" stroke="#000" stroke-width="1.50"/>
<line x1="1774.70" y1="171.79" x2="1768.70" y2="171.79" stroke="#000" stroke-width="1.50"/>
<line x1="1039.30" y1="168.40" x2="1051.10" y2="168.40" stroke="#000" stroke-width="1.50"/>
<line x1="1774.70" y1="168.40" x2="1762.90" y2="168.40" stroke="#000" stroke-width="1.50"/>
<line x1="1039.30" y1="146.09" x2="1045.30" y2="146.09" stroke="#000" stroke-width="1.50"/>
<line x1="1774.70" y1="146.09" x2="1768.70" y2="146.09" stroke="#000" stroke-width="1.50"/>
<line x1="1039.30" y1="133.05" x2="1045.30" y2="133.05" stroke="#000" stroke-width="1.50"/>
<line x1="1774.70" y1="133.05" x2="1768.70" y2="133.05" stroke="#000" stroke-width="1.50"/>
<line x1="1039.30" y1="123.79" x2="1045.30" y2="123.79" stroke="#000" stroke-width="1.50"/>
<line x1="1774.70" y1="123.79" x2="1768.70" y2="123.79" stroke="#000" stroke-width="1.50"/>
<line x1="1039.30" y1="116.61" x2="1045.30" y2="116.61" stroke="#000" stroke-width="1.50"/>
<line x1="1774.70" y1="116.61" x2="1768.70" y2="116.61" stroke="#000" stroke-width="1.50"/>
<line x1="1039.30" y1="110.74" x2="1045.30" y2="110.74" stroke="#000" stroke-width="1.50"/>
<line x1="1774.70" y1="110.74" x2="1768.70" y2="110.74" stroke="#000" stroke-width="1.50"/>
<line x1="1039.30" y1="105.78" x2="1045.30" y2="105.78" stroke="#000" stroke-width="1.50"/>
<line x1="1774.70" y1="105.78" x2="1768.70" y2="105.78" stroke="#000" stroke-width="1.50"/>
<line x1="1039.30" y1="101.48" x2="1045.30" y2="101.48" stroke="#000" stroke-width="1.50"/>
<line x1="1774.70" y1="101.48" x2="1768.70" y2="101.48" stroke="#000" stroke-width="1.50"/>
<line x1="1039.30" y1="97.69" x2="1045.30" y2="97.69" stroke="#000" stroke-width="1.50"/>
<line x1="1774.70" y1="97.69" x2="1768.70" y2="97.69" stroke="#000" stroke-width="1.50"/>
<line x1="1039.30" y1="94.30" x2="1051.10" y2="94.30" stroke="#000" stroke-width="1.50"/>
<line x1="1774.70" y1="94.30" x2="1762.90" y2="94.30" stroke="#000" stroke-width="1.50"/>
<line x1="1039.30" y1="71.99" x2="1045.30" y2="71.99" stroke="#000" stroke-width="1.50"/>
<line x1="1774.70" y1="71.99" x2="1768.70" y2="71.99" stroke="#000" stroke-width="1.50"/>
<line x1="1039.30" y1="58.95" x2="1045.30" y2="58.95" stroke="#000" stroke-width="1.50"/>
<line x1="1774.70" y1="58.95" x2="1768.70" y2="58.95" stroke="#000" stroke-width="1.50"/>
<line x1="1039.30" y1="49.69" x2="1045.30" y2="49.69" stroke="#000" stroke-width="1.50"/>
<line x1="1774.70" y1="49.69" x2="1768.70" y2="49.69" stroke="#000" stroke-width="1.50"/>
<line x1="1039.30" y1="42.51" x2="1045.30" y2="42.51" stroke="#000" stroke-width="1.50"/>
<line x1="1774.70" y1="42.51" x2="1768.70" y2="42.51" stroke="#000" stroke-width="1.50"/>
<line x1="1039.30" y1="36.64" x2="1045.30" y2="36.64" stroke="#000" stroke-width="1.50"/>
<line x1="1774.70" y1="36.64" x2="1768.70" y2="36.64" stroke="#000" stroke-width="1.50"/>
<line x1="1039.30" y1="31.68" x2="1045.30" y2="31.68" stroke="#000" stroke-width="1.50"/>
<line x1="1774.70" y1="31.68" x2="1768.70" y2="31.68" stroke="#000" stroke-width="1.50"/>
<line x1="1039.30" y1="27.38" x2="1045.30" y2="27.38" stroke="#000" stroke-width="1.50"/>
<line x1="1774.70" y1="27.38" x2="1768.70" y2="27.38" stroke="#000" stroke-width="1.50"/>
<line x1="1039.30" y1="23.59" x2="1045.30" y2="23.59" stroke="#000" stroke-width="1.50"/>
<line x1="1774.70" y1="23.59" x2="1768.70" y2="23.59" stroke="#000" stroke-width="1.50"/>
<text font-size="24.60" textLength="23.5" lengthAdjust="spacingAndGlyphs" x="993.91" y="547.20">10</text>
<text font-size="14.20" textLength="7.6" lengthAdjust="spacingAndGlyphs" x="1019.10" y="535.40">1</text>
<text font-size="24.60" textLength="23.5" lengthAdjust="spacingAndGlyphs" x="993.91" y="473.10">10</text>
<text font-size="14.20" textLength="7.6" lengthAdjust="spacingAndGlyphs" x="1019.10" y="461.30">2</text>
<text font-size="24.60" textLength="23.5" lengthAdjust="spacingAndGlyphs" x="993.91" y="399.00">10</text>
<text font-size="14.20" textLength="7.6" lengthAdjust="spacingAndGlyphs" x="1019.10" y="387.20">3</text>
<text font-size="24.60" textLength="23.5" lengthAdjust="spacingAndGlyphs" x="993.91" y="324.90">10</text>
<text font-size="14.20" textLength="7.6" lengthAdjust="spacingAndGlyphs" x="1019.10" y="313.10">4</text>
<text font-size="24.60" textLength="23.5" lengthAdjust="spacingAndGlyphs" x="993.91" y="250.80">10</text>
<text font-size="14.20" textLength="7.6" lengthAdjust="spacingAndGlyphs" x="1019.10" y="239.00">5</text>
<text font-size="24.60" textLength="23.5" lengthAdjust="spacingAndGlyphs" x="993.91" y="176.70">10</text>
<text font-size="14.20" textLength="7.6" lengthAdjust="spacingAndGlyphs" x="1019.10" y="164.90">6</text>
<text font-size="24.60" textLength="23.5" lengthAdjust="spacingAndGlyphs" x="993.91" y="102.60">10</text>
<text font-size="14.20" textLength="7.6" lengthAdjust="spacingAndGlyphs" x="1019.10" y="90.80">7</text>
<text font-size="24.60" textLength="23.5" lengthAdjust="spacingAndGlyphs" x="993.91" y="28.50">10</text>
<text font-size="14.20" textLength="7.6" lengthAdjust="spacingAndGlyphs" x="1019.10" y="16.70">8</text>
<text font-size="32.00" textLength="37.7" lengthAdjust="spacingAndGlyphs" x="1037.94" y="598.30">45</text>
<text font-size="32.00" textLength="37.8" lengthAdjust="spacingAndGlyphs" x="1217.34" y="598.30">46</text>
<text font-size="32.00" textLength="38.1" lengthAdjust="spacingAndGlyphs" x="1396.73" y="598.30">47</text>
<text font-size="32.00" textLength="37.8" lengthAdjust="spacingAndGlyphs" x="1576.14" y="598.30">48</text>
<text font-size="32.00" textLength="37.9" lengthAdjust="spacingAndGlyphs" x="1755.53" y="598.30">49</text>
<text font-size="45.30" textLength="290.7" lengthAdjust="spacingAndGlyphs" transform="translate(955.20 421.24) rotate(-90)">Intensity (a.u.)</text>
<text y="668.6"><tspan x="1350.03" font-size="46.40" textLength="27.5" lengthAdjust="spacingAndGlyphs">2</tspan><tspan x="1379.41" font-size="44.60" textLength="28.4" lengthAdjust="spacingAndGlyphs" font-style="italic" font-family='"Liberation Serif", "Times New Roman", serif'>θ</tspan><tspan x="1411.68" font-size="46.40" textLength="51.5" lengthAdjust="spacingAndGlyphs">(°)</tspan></text>
<text font-size="52.00" font-weight="bold" textLength="67.2" lengthAdjust="spacingAndGlyphs" x="913.77" y="38.60">(b)</text>
<text font-size="34.20" font-weight="bold" fill="#0000ff" textLength="208.5" lengthAdjust="spacingAndGlyphs" x="1063.25" y="72.60">SMO 115 nm</text>
<line x1="1366.0" y1="53.8" x2="1382.6" y2="53.8" stroke="#000" stroke-width="3.8" stroke-linecap="round"/>
<line x1="1405.1" y1="53.8" x2="1421.4" y2="53.8" stroke="#000" stroke-width="3.8" stroke-linecap="round"/>
<line x1="1366.5" y1="88.2" x2="1427.4" y2="88.2" stroke="#0000ff" stroke-width="3.8" stroke-linecap="round"/>
<text font-size="28.30" font-weight="bold" textLength="327.9" lengthAdjust="spacingAndGlyphs" x="1434.14" y="62.50">Before oxygen annealing</text>
<text font-size="28.30" font-weight="bold" fill="#0000ff" textLength="304.8" lengthAdjust="spacingAndGlyphs" x="1434.31" y="97.30">After oxygen annealing</text>
<text font-size="27.80" font-weight="bold" textLength="131.2" lengthAdjust="spacingAndGlyphs" transform="translate(1205.00 382.62) rotate(-90)">SRO (002)</text>
<text font-size="27.80" font-weight="bold" textLength="142.4" lengthAdjust="spacingAndGlyphs" transform="translate(1366.00 273.87) rotate(-90)">LSAT (002)</text>
<text font-size="27.80" font-weight="bold" textLength="133.2" lengthAdjust="spacingAndGlyphs" transform="translate(1623.00 267.32) rotate(-90)">SMO (002)</text>
<path d="M1593.7 280.2 h26.4 v-5.1 l13.0 8.5 l-13.0 8.5 v-5.1 h-26.4 z" fill="#cc0066"/>
<path d="M240.00 1110.80 L380.40 1068.20 L521.00 977.90 L661.60 966.90 L802.20 830.60" fill="none" stroke="#404040" stroke-width="6.50" stroke-linecap="round" stroke-linejoin="round" stroke-dasharray="0 12.85" stroke-dashoffset="-7.60"/>
<path d="M239.60 1192.90 L380.40 1136.70 L521.10 1118.00 L661.60 1098.80 L802.20 976.90" fill="none" stroke="#000" stroke-width="6.70" stroke-linecap="round" stroke-linejoin="round" stroke-dasharray="0 12.85" stroke-dashoffset="-0.00"/>
<rect x="233.60" y="1104.40" width="12.80" height="12.80" fill="#404040"/>
<rect x="374.00" y="1061.80" width="12.80" height="12.80" fill="#404040"/>
<rect x="514.60" y="971.50" width="12.80" height="12.80" fill="#404040"/>
<rect x="655.20" y="960.50" width="12.80" height="12.80" fill="#404040"/>
<rect x="795.80" y="824.20" width="12.80" height="12.80" fill="#404040"/>
<circle cx="239.60" cy="1192.90" r="11.70" fill="#ff0000"/><circle cx="239.60" cy="1192.90" r="11.70" fill="url(#g_red)"/>
<circle cx="380.40" cy="1136.70" r="11.70" fill="#ff8000"/><circle cx="380.40" cy="1136.70" r="11.70" fill="url(#g_org)"/>
<circle cx="521.10" cy="1118.00" r="11.70" fill="#008000"/><circle cx="521.10" cy="1118.00" r="11.70" fill="url(#g_grn)"/>
<circle cx="661.60" cy="1098.80" r="11.70" fill="#800080"/><circle cx="661.60" cy="1098.80" r="11.70" fill="url(#g_pur)"/>
<circle cx="802.20" cy="976.90" r="11.70" fill="#0000ff"/><circle cx="802.20" cy="976.90" r="11.70" fill="url(#g_blu)"/>
<rect x="169.60" y="724.80" width="703.80" height="517.20" fill="none" stroke="#000" stroke-width="2.60"/>
<g stroke-linecap="round">
<line x1="205.07" y1="1242.00" x2="205.07" y2="1236.20" stroke="#000" stroke-width="2.20"/>
<line x1="205.07" y1="724.80" x2="205.07" y2="730.60" stroke="#000" stroke-width="2.20"/>
<line x1="240.20" y1="1242.00" x2="240.20" y2="1230.40" stroke="#000" stroke-width="2.20"/>
<line x1="240.20" y1="724.80" x2="240.20" y2="736.40" stroke="#000" stroke-width="2.20"/>
<line x1="275.32" y1="1242.00" x2="275.32" y2="1236.20" stroke="#000" stroke-width="2.20"/>
<line x1="275.32" y1="724.80" x2="275.32" y2="730.60" stroke="#000" stroke-width="2.20"/>
<line x1="310.45" y1="1242.00" x2="310.45" y2="1230.40" stroke="#000" stroke-width="2.20"/>
<line x1="310.45" y1="724.80" x2="310.45" y2="736.40" stroke="#000" stroke-width="2.20"/>
<line x1="345.57" y1="1242.00" x2="345.57" y2="1236.20" stroke="#000" stroke-width="2.20"/>
<line x1="345.57" y1="724.80" x2="345.57" y2="730.60" stroke="#000" stroke-width="2.20"/>
<line x1="380.70" y1="1242.00" x2="380.70" y2="1230.40" stroke="#000" stroke-width="2.20"/>
<line x1="380.70" y1="724.80" x2="380.70" y2="736.40" stroke="#000" stroke-width="2.20"/>
<line x1="415.82" y1="1242.00" x2="415.82" y2="1236.20" stroke="#000" stroke-width="2.20"/>
<line x1="415.82" y1="724.80" x2="415.82" y2="730.60" stroke="#000" stroke-width="2.20"/>
<line x1="450.95" y1="1242.00" x2="450.95" y2="1230.40" stroke="#000" stroke-width="2.20"/>
<line x1="450.95" y1="724.80" x2="450.95" y2="736.40" stroke="#000" stroke-width="2.20"/>
<line x1="486.07" y1="1242.00" x2="486.07" y2="1236.20" stroke="#000" stroke-width="2.20"/>
<line x1="486.07" y1="724.80" x2="486.07" y2="730.60" stroke="#000" stroke-width="2.20"/>
<line x1="521.20" y1="1242.00" x2="521.20" y2="1230.40" stroke="#000" stroke-width="2.20"/>
<line x1="521.20" y1="724.80" x2="521.20" y2="736.40" stroke="#000" stroke-width="2.20"/>
<line x1="556.33" y1="1242.00" x2="556.33" y2="1236.20" stroke="#000" stroke-width="2.20"/>
<line x1="556.33" y1="724.80" x2="556.33" y2="730.60" stroke="#000" stroke-width="2.20"/>
<line x1="591.45" y1="1242.00" x2="591.45" y2="1230.40" stroke="#000" stroke-width="2.20"/>
<line x1="591.45" y1="724.80" x2="591.45" y2="736.40" stroke="#000" stroke-width="2.20"/>
<line x1="626.58" y1="1242.00" x2="626.58" y2="1236.20" stroke="#000" stroke-width="2.20"/>
<line x1="626.58" y1="724.80" x2="626.58" y2="730.60" stroke="#000" stroke-width="2.20"/>
<line x1="661.70" y1="1242.00" x2="661.70" y2="1230.40" stroke="#000" stroke-width="2.20"/>
<line x1="661.70" y1="724.80" x2="661.70" y2="736.40" stroke="#000" stroke-width="2.20"/>
<line x1="696.83" y1="1242.00" x2="696.83" y2="1236.20" stroke="#000" stroke-width="2.20"/>
<line x1="696.83" y1="724.80" x2="696.83" y2="730.60" stroke="#000" stroke-width="2.20"/>
<line x1="731.95" y1="1242.00" x2="731.95" y2="1230.40" stroke="#000" stroke-width="2.20"/>
<line x1="731.95" y1="724.80" x2="731.95" y2="736.40" stroke="#000" stroke-width="2.20"/>
<line x1="767.08" y1="1242.00" x2="767.08" y2="1236.20" stroke="#000" stroke-width="2.20"/>
<line x1="767.08" y1="724.80" x2="767.08" y2="730.60" stroke="#000" stroke-width="2.20"/>
<line x1="802.20" y1="1242.00" x2="802.20" y2="1230.40" stroke="#000" stroke-width="2.20"/>
<line x1="802.20" y1="724.80" x2="802.20" y2="736.40" stroke="#000" stroke-width="2.20"/>
<line x1="837.33" y1="1242.00" x2="837.33" y2="1236.20" stroke="#000" stroke-width="2.20"/>
<line x1="837.33" y1="724.80" x2="837.33" y2="730.60" stroke="#000" stroke-width="2.20"/>
<line x1="169.60" y1="1220.22" x2="176.20" y2="1220.22" stroke="#000" stroke-width="2.20"/>
<line x1="873.40" y1="1220.22" x2="866.80" y2="1220.22" stroke="#000" stroke-width="2.20"/>
<line x1="169.60" y1="1184.30" x2="181.60" y2="1184.30" stroke="#000" stroke-width="2.20"/>
<line x1="873.40" y1="1184.30" x2="861.40" y2="1184.30" stroke="#000" stroke-width="2.20"/>
<line x1="169.60" y1="1148.38" x2="176.20" y2="1148.38" stroke="#000" stroke-width="2.20"/>
<line x1="873.40" y1="1148.38" x2="866.80" y2="1148.38" stroke="#000" stroke-width="2.20"/>
<line x1="169.60" y1="1112.45" x2="181.60" y2="1112.45" stroke="#000" stroke-width="2.20"/>
<line x1="873.40" y1="1112.45" x2="861.40" y2="1112.45" stroke="#000" stroke-width="2.20"/>
<line x1="169.60" y1="1076.52" x2="176.20" y2="1076.52" stroke="#000" stroke-width="2.20"/>
<line x1="873.40" y1="1076.52" x2="866.80" y2="1076.52" stroke="#000" stroke-width="2.20"/>
<line x1="169.60" y1="1040.60" x2="181.60" y2="1040.60" stroke="#000" stroke-width="2.20"/>
<line x1="873.40" y1="1040.60" x2="861.40" y2="1040.60" stroke="#000" stroke-width="2.20"/>
<line x1="169.60" y1="1004.67" x2="176.20" y2="1004.67" stroke="#000" stroke-width="2.20"/>
<line x1="873.40" y1="1004.67" x2="866.80" y2="1004.67" stroke="#000" stroke-width="2.20"/>
<line x1="169.60" y1="968.75" x2="181.60" y2="968.75" stroke="#000" stroke-width="2.20"/>
<line x1="873.40" y1="968.75" x2="861.40" y2="968.75" stroke="#000" stroke-width="2.20"/>
<line x1="169.60" y1="932.83" x2="176.20" y2="932.83" stroke="#000" stroke-width="2.20"/>
<line x1="873.40" y1="932.83" x2="866.80" y2="932.83" stroke="#000" stroke-width="2.20"/>
<line x1="169.60" y1="896.90" x2="181.60" y2="896.90" stroke="#000" stroke-width="2.20"/>
<line x1="873.40" y1="896.90" x2="861.40" y2="896.90" stroke="#000" stroke-width="2.20"/>
<line x1="169.60" y1="860.97" x2="176.20" y2="860.97" stroke="#000" stroke-width="2.20"/>
<line x1="873.40" y1="860.97" x2="866.80" y2="860.97" stroke="#000" stroke-width="2.20"/>
<line x1="169.60" y1="825.05" x2="181.60" y2="825.05" stroke="#000" stroke-width="2.20"/>
<line x1="873.40" y1="825.05" x2="861.40" y2="825.05" stroke="#000" stroke-width="2.20"/>
<line x1="169.60" y1="789.12" x2="176.20" y2="789.12" stroke="#000" stroke-width="2.20"/>
<line x1="873.40" y1="789.12" x2="866.80" y2="789.12" stroke="#000" stroke-width="2.20"/>
<line x1="169.60" y1="753.20" x2="181.60" y2="753.20" stroke="#000" stroke-width="2.20"/>
<line x1="873.40" y1="753.20" x2="861.40" y2="753.20" stroke="#000" stroke-width="2.20"/>
</g>
<text font-size="27.30" textLength="67.5" lengthAdjust="spacingAndGlyphs" x="88.39" y="1192.10">3.770</text>
<text font-size="27.30" textLength="67.6" lengthAdjust="spacingAndGlyphs" x="88.39" y="1120.25">3.775</text>
<text font-size="27.30" textLength="67.5" lengthAdjust="spacingAndGlyphs" x="88.39" y="1048.40">3.780</text>
<text font-size="27.30" textLength="67.6" lengthAdjust="spacingAndGlyphs" x="88.39" y="976.55">3.785</text>
<text font-size="27.30" textLength="67.5" lengthAdjust="spacingAndGlyphs" x="88.39" y="904.70">3.790</text>
<text font-size="27.30" textLength="67.6" lengthAdjust="spacingAndGlyphs" x="88.39" y="832.85">3.795</text>
<text font-size="27.30" textLength="67.5" lengthAdjust="spacingAndGlyphs" x="88.39" y="761.00">3.800</text>
<text font-size="28.80" textLength="34.4" lengthAdjust="spacingAndGlyphs" x="221.95" y="1278.00">20</text>
<text font-size="28.80" textLength="33.6" lengthAdjust="spacingAndGlyphs" x="362.02" y="1276.00">45</text>
<text font-size="28.80" textLength="34.6" lengthAdjust="spacingAndGlyphs" x="504.44" y="1277.30">69</text>
<text font-size="28.80" textLength="34.7" lengthAdjust="spacingAndGlyphs" x="644.62" y="1277.50">92</text>
<text font-size="28.80" textLength="49.2" lengthAdjust="spacingAndGlyphs" x="776.09" y="1276.50">115</text>
<text font-size="41.00" textLength="437.2" lengthAdjust="spacingAndGlyphs" x="303.76" y="1336.00">Thickness of SMO (nm)</text>
<text transform="translate(58.2 1109.5) rotate(-90)" font-size="50" textLength="253" lengthAdjust="spacingAndGlyphs"><tspan font-style="italic">c</tspan>–lattice (Å)</text>
<text font-size="52.00" font-weight="bold" textLength="63.6" lengthAdjust="spacingAndGlyphs" x="-2.00" y="738.80">(c)</text>
<circle cx="561.60" cy="761.5" r="3.2" fill="#404040"/>
<circle cx="574.60" cy="761.5" r="3.2" fill="#404040"/>
<circle cx="600.50" cy="761.5" r="3.2" fill="#404040"/>
<circle cx="612.70" cy="761.5" r="3.2" fill="#404040"/>
<circle cx="561.60" cy="794.9" r="3.3" fill="#ff0000"/>
<circle cx="574.60" cy="794.9" r="3.3" fill="#ff0000"/>
<circle cx="612.70" cy="794.9" r="3.3" fill="#ff0000"/>
<rect x="585.50" y="755.2" width="13.6" height="12.6" fill="#404040"/>
<circle cx="592.30" cy="794.90" r="11.70" fill="#ff0000"/><circle cx="592.30" cy="794.90" r="11.70" fill="url(#g_red)"/>
<text font-size="25.90" textLength="186.2" lengthAdjust="spacingAndGlyphs" x="631.13" y="769.80">As-grown SMO</text>
<text font-size="25.90" textLength="224.8" lengthAdjust="spacingAndGlyphs" x="629.95" y="803.00">SOA-treated SMO</text>
<path d="M1142.60 1191.50 L1283.50 1168.00 L1424.30 1094.10 L1564.40 1018.70 L1705.20 835.60" fill="none" stroke="#404040" stroke-width="6.50" stroke-linecap="round" stroke-linejoin="round" stroke-dasharray="0 12.85" stroke-dashoffset="-12.50"/>
<path d="M1142.40 1195.60 L1283.00 1176.60 L1424.30 1173.90 L1564.40 1173.90 L1705.20 1169.30" fill="none" stroke="#000" stroke-width="6.70" stroke-linecap="round" stroke-linejoin="round" stroke-dasharray="0 12.85" stroke-dashoffset="-0.00"/>
<rect x="1277.10" y="1161.60" width="12.80" height="12.80" fill="#000"/>
<rect x="1417.90" y="1087.70" width="12.80" height="12.80" fill="#000"/>
<rect x="1558.00" y="1012.30" width="12.80" height="12.80" fill="#000"/>
<rect x="1698.80" y="829.20" width="12.80" height="12.80" fill="#000"/>
<circle cx="1142.40" cy="1195.60" r="11.70" fill="#ff0000"/><circle cx="1142.40" cy="1195.60" r="11.70" fill="url(#g_red)"/>
<circle cx="1283.00" cy="1176.60" r="11.70" fill="#ff8000"/><circle cx="1283.00" cy="1176.60" r="11.70" fill="url(#g_org)"/>
<circle cx="1424.30" cy="1173.90" r="11.70" fill="#008000"/><circle cx="1424.30" cy="1173.90" r="11.70" fill="url(#g_grn)"/>
<circle cx="1564.40" cy="1173.90" r="11.70" fill="#800080"/><circle cx="1564.40" cy="1173.90" r="11.70" fill="url(#g_pur)"/>
<circle cx="1705.20" cy="1169.30" r="11.70" fill="#0000ff"/><circle cx="1705.20" cy="1169.30" r="11.70" fill="url(#g_blu)"/>
<rect x="1072.40" y="725.30" width="703.90" height="516.30" fill="none" stroke="#000" stroke-width="2.60"/>
<g stroke-linecap="round">
<line x1="1142.60" y1="1241.60" x2="1142.60" y2="1230.00" stroke="#000" stroke-width="2.20"/>
<line x1="1142.60" y1="725.30" x2="1142.60" y2="736.90" stroke="#000" stroke-width="2.20"/>
<line x1="1212.88" y1="1241.60" x2="1212.88" y2="1235.80" stroke="#000" stroke-width="2.20"/>
<line x1="1212.88" y1="725.30" x2="1212.88" y2="731.10" stroke="#000" stroke-width="2.20"/>
<line x1="1283.15" y1="1241.60" x2="1283.15" y2="1230.00" stroke="#000" stroke-width="2.20"/>
<line x1="1283.15" y1="725.30" x2="1283.15" y2="736.90" stroke="#000" stroke-width="2.20"/>
<line x1="1353.42" y1="1241.60" x2="1353.42" y2="1235.80" stroke="#000" stroke-width="2.20"/>
<line x1="1353.42" y1="725.30" x2="1353.42" y2="731.10" stroke="#000" stroke-width="2.20"/>
<line x1="1423.70" y1="1241.60" x2="1423.70" y2="1230.00" stroke="#000" stroke-width="2.20"/>
<line x1="1423.70" y1="725.30" x2="1423.70" y2="736.90" stroke="#000" stroke-width="2.20"/>
<line x1="1493.97" y1="1241.60" x2="1493.97" y2="1235.80" stroke="#000" stroke-width="2.20"/>
<line x1="1493.97" y1="725.30" x2="1493.97" y2="731.10" stroke="#000" stroke-width="2.20"/>
<line x1="1564.25" y1="1241.60" x2="1564.25" y2="1230.00" stroke="#000" stroke-width="2.20"/>
<line x1="1564.25" y1="725.30" x2="1564.25" y2="736.90" stroke="#000" stroke-width="2.20"/>
<line x1="1634.53" y1="1241.60" x2="1634.53" y2="1235.80" stroke="#000" stroke-width="2.20"/>
<line x1="1634.53" y1="725.30" x2="1634.53" y2="731.10" stroke="#000" stroke-width="2.20"/>
<line x1="1704.80" y1="1241.60" x2="1704.80" y2="1230.00" stroke="#000" stroke-width="2.20"/>
<line x1="1704.80" y1="725.30" x2="1704.80" y2="736.90" stroke="#000" stroke-width="2.20"/>
<line x1="1072.40" y1="1208.16" x2="1079.00" y2="1208.16" stroke="#000" stroke-width="2.20"/>
<line x1="1776.30" y1="1208.16" x2="1769.70" y2="1208.16" stroke="#000" stroke-width="2.20"/>
<line x1="1072.40" y1="1174.13" x2="1084.40" y2="1174.13" stroke="#000" stroke-width="2.20"/>
<line x1="1776.30" y1="1174.13" x2="1764.30" y2="1174.13" stroke="#000" stroke-width="2.20"/>
<line x1="1072.40" y1="1140.10" x2="1079.00" y2="1140.10" stroke="#000" stroke-width="2.20"/>
<line x1="1776.30" y1="1140.10" x2="1769.70" y2="1140.10" stroke="#000" stroke-width="2.20"/>
<line x1="1072.40" y1="1106.06" x2="1084.40" y2="1106.06" stroke="#000" stroke-width="2.20"/>
<line x1="1776.30" y1="1106.06" x2="1764.30" y2="1106.06" stroke="#000" stroke-width="2.20"/>
<line x1="1072.40" y1="1072.03" x2="1079.00" y2="1072.03" stroke="#000" stroke-width="2.20"/>
<line x1="1776.30" y1="1072.03" x2="1769.70" y2="1072.03" stroke="#000" stroke-width="2.20"/>
<line x1="1072.40" y1="1037.99" x2="1084.40" y2="1037.99" stroke="#000" stroke-width="2.20"/>
<line x1="1776.30" y1="1037.99" x2="1764.30" y2="1037.99" stroke="#000" stroke-width="2.20"/>
<line x1="1072.40" y1="1003.96" x2="1079.00" y2="1003.96" stroke="#000" stroke-width="2.20"/>
<line x1="1776.30" y1="1003.96" x2="1769.70" y2="1003.96" stroke="#000" stroke-width="2.20"/>
<line x1="1072.40" y1="969.92" x2="1084.40" y2="969.92" stroke="#000" stroke-width="2.20"/>
<line x1="1776.30" y1="969.92" x2="1764.30" y2="969.92" stroke="#000" stroke-width="2.20"/>
<line x1="1072.40" y1="935.89" x2="1079.00" y2="935.89" stroke="#000" stroke-width="2.20"/>
<line x1="1776.30" y1="935.89" x2="1769.70" y2="935.89" stroke="#000" stroke-width="2.20"/>
<line x1="1072.40" y1="901.85" x2="1084.40" y2="901.85" stroke="#000" stroke-width="2.20"/>
<line x1="1776.30" y1="901.85" x2="1764.30" y2="901.85" stroke="#000" stroke-width="2.20"/>
<line x1="1072.40" y1="867.82" x2="1079.00" y2="867.82" stroke="#000" stroke-width="2.20"/>
<line x1="1776.30" y1="867.82" x2="1769.70" y2="867.82" stroke="#000" stroke-width="2.20"/>
<line x1="1072.40" y1="833.78" x2="1084.40" y2="833.78" stroke="#000" stroke-width="2.20"/>
<line x1="1776.30" y1="833.78" x2="1764.30" y2="833.78" stroke="#000" stroke-width="2.20"/>
<line x1="1072.40" y1="799.75" x2="1079.00" y2="799.75" stroke="#000" stroke-width="2.20"/>
<line x1="1776.30" y1="799.75" x2="1769.70" y2="799.75" stroke="#000" stroke-width="2.20"/>
<line x1="1072.40" y1="765.71" x2="1084.40" y2="765.71" stroke="#000" stroke-width="2.20"/>
<line x1="1776.30" y1="765.71" x2="1764.30" y2="765.71" stroke="#000" stroke-width="2.20"/>
<line x1="1072.40" y1="731.68" x2="1079.00" y2="731.68" stroke="#000" stroke-width="2.20"/>
<line x1="1776.30" y1="731.68" x2="1769.70" y2="731.68" stroke="#000" stroke-width="2.20"/>
</g>
<text font-size="27.30" textLength="53.8" lengthAdjust="spacingAndGlyphs" x="1005.69" y="1249.40">0.00</text>
<text font-size="27.30" textLength="53.9" lengthAdjust="spacingAndGlyphs" x="1005.69" y="1181.33">0.05</text>
<text font-size="27.30" textLength="53.8" lengthAdjust="spacingAndGlyphs" x="1005.69" y="1113.26">0.10</text>
<text font-size="27.30" textLength="53.9" lengthAdjust="spacingAndGlyphs" x="1005.69" y="1045.19">0.15</text>
<text font-size="27.30" textLength="53.8" lengthAdjust="spacingAndGlyphs" x="1005.69" y="977.12">0.20</text>
<text font-size="27.30" textLength="53.9" lengthAdjust="spacingAndGlyphs" x="1005.69" y="909.05">0.25</text>
<text font-size="27.30" textLength="53.8" lengthAdjust="spacingAndGlyphs" x="1005.69" y="840.98">0.30</text>
<text font-size="27.30" textLength="53.9" lengthAdjust="spacingAndGlyphs" x="1005.69" y="772.91">0.35</text>
<text font-size="28.80" textLength="34.4" lengthAdjust="spacingAndGlyphs" x="1124.65" y="1280.60">20</text>
<text font-size="28.80" textLength="33.6" lengthAdjust="spacingAndGlyphs" x="1266.22" y="1279.60">45</text>
<text font-size="28.80" textLength="34.6" lengthAdjust="spacingAndGlyphs" x="1408.64" y="1280.60">69</text>
<text font-size="28.80" textLength="34.7" lengthAdjust="spacingAndGlyphs" x="1546.82" y="1280.60">92</text>
<text font-size="28.80" textLength="49.2" lengthAdjust="spacingAndGlyphs" x="1678.49" y="1280.60">115</text>
<text font-size="41.00" textLength="436.8" lengthAdjust="spacingAndGlyphs" x="1206.86" y="1336.00">Thickness of SMO (nm)</text>
<text font-size="43.60" textLength="426.1" lengthAdjust="spacingAndGlyphs" transform="translate(969.00 1195.84) rotate(-90)">FWHM intensity (a.u.)</text>
<text font-size="52.00" font-weight="bold" textLength="67.2" lengthAdjust="spacingAndGlyphs" x="913.67" y="738.80">(d)</text>
<circle cx="1457.90" cy="761.5" r="3.2" fill="#404040"/>
<circle cx="1470.90" cy="761.5" r="3.2" fill="#404040"/>
<circle cx="1496.80" cy="761.5" r="3.2" fill="#404040"/>
<circle cx="1509.00" cy="761.5" r="3.2" fill="#404040"/>
<circle cx="1457.90" cy="794.9" r="3.3" fill="#ff0000"/>
<circle cx="1470.90" cy="794.9" r="3.3" fill="#ff0000"/>
<circle cx="1509.00" cy="794.9" r="3.3" fill="#ff0000"/>
<rect x="1481.80" y="755.2" width="13.6" height="12.6" fill="#000"/>
<circle cx="1488.60" cy="794.90" r="11.70" fill="#ff0000"/><circle cx="1488.60" cy="794.90" r="11.70" fill="url(#g_red)"/>
<text font-size="25.90" textLength="186.4" lengthAdjust="spacingAndGlyphs" x="1526.93" y="769.80">As-grown SMO</text>
<text font-size="25.90" textLength="224.7" lengthAdjust="spacingAndGlyphs" x="1525.75" y="803.00">SOA-treated SMO</text>
</svg></body></html>
